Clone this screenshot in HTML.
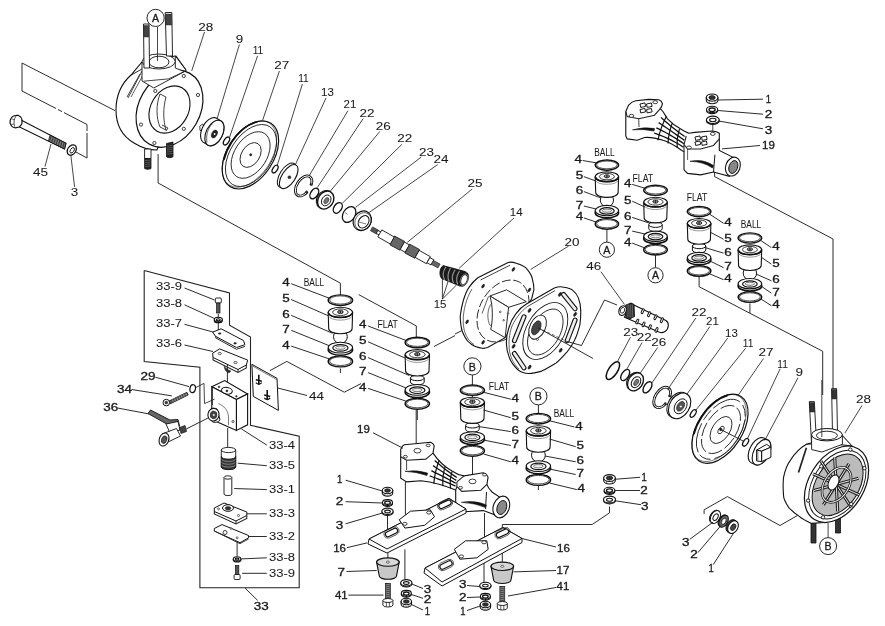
<!DOCTYPE html>
<html><head><meta charset="utf-8"><style>
html,body{margin:0;padding:0;background:#fff;}
svg{display:block;filter:grayscale(1);}
text{font-family:"Liberation Sans",sans-serif;fill:#1a1a1a;stroke:#1a1a1a;stroke-width:0.05px;}
</style></head><body>
<svg width="885" height="626" viewBox="0 0 885 626">
<rect width="885" height="626" fill="#fff"/>
<path d="M22.0 63.0 L115.0 110.6" fill="none" stroke="#222" stroke-width="0.96" />
<path d="M22.0 63.0 L22.0 91.0" fill="none" stroke="#222" stroke-width="0.96" />
<path d="M22.0 91.0 L56.0 108.5" fill="none" stroke="#222" stroke-width="0.96" />
<path d="M58.0 109.5 L62.0 111.6" fill="none" stroke="#222" stroke-width="0.96" />
<path d="M64.0 112.6 L87.0 124.5" fill="none" stroke="#222" stroke-width="0.96" />
<path d="M87.0 124.5 L87.0 131.0" fill="none" stroke="#222" stroke-width="0.96" />
<path d="M87.0 133.0 L87.0 158.0" fill="none" stroke="#222" stroke-width="0.96" />
<path d="M87.0 158.0 L75.0 151.5" fill="none" stroke="#222" stroke-width="0.96" />
<path d="M20.5,119.8 L66,143.2 L64.5,149 L18.5,126.5 Z" fill="#fff" stroke="#111" stroke-width="1.1" />
<path d="M50,135.2 L66,143.2 L64.5,149 L48.5,141 Z" fill="#777" stroke="#111" stroke-width="0.8" />
<path d="M51.0 135.9 L49.6 141.5" fill="none" stroke="#222" stroke-width="0.72" />
<path d="M53.2 137.0 L51.8 142.6" fill="none" stroke="#222" stroke-width="0.72" />
<path d="M55.4 138.1 L54.0 143.7" fill="none" stroke="#222" stroke-width="0.72" />
<path d="M57.6 139.2 L56.2 144.8" fill="none" stroke="#222" stroke-width="0.72" />
<path d="M59.8 140.3 L58.4 145.9" fill="none" stroke="#222" stroke-width="0.72" />
<path d="M62.0 141.4 L60.6 147.0" fill="none" stroke="#222" stroke-width="0.72" />
<path d="M64.2 142.5 L62.8 148.1" fill="none" stroke="#222" stroke-width="0.72" />
<path d="M10.3,120 C11,118 12,116.5 13.5,116 L18,115.2 C20,116 21.5,117.5 21.8,119 L22,123.5 C21,125.5 20,126.5 19,127 L15.5,127.8 C13.5,127.5 12,126.8 11.5,126 L10,123 Z" fill="#fff" stroke="#111" stroke-width="1.2" />
<path d="M16,116.2 C14,118.5 13.5,122.5 14.6,126.5" fill="none" stroke="#222" stroke-width="0.8"/>
<path d="M12,119 L14.2,119.8 M11.2,124.5 L13.8,124" fill="none" stroke="#222" stroke-width="0.7"/>
<ellipse cx="71.8" cy="150.0" rx="4.11" ry="5.60" transform="rotate(33 71.8 150.0)" fill="#fff" stroke="#111" stroke-width="1.3" />
<ellipse cx="72.2" cy="150.3" rx="1.75" ry="3.01" transform="rotate(33 72.2 150.3)" fill="#fff" stroke="#111" stroke-width="0.9" />
<text x="40.5" y="175.8" font-size="10.6" text-anchor="middle" textLength="15.0" lengthAdjust="spacingAndGlyphs" >45</text>
<path d="M45.0 166.5 L51.0 144.0" fill="none" stroke="#222" stroke-width="0.84" />
<text x="74.6" y="196.3" font-size="10.6" text-anchor="middle" textLength="7.5" lengthAdjust="spacingAndGlyphs" >3</text>
<path d="M74.6 187.0 L70.8 155.0" fill="none" stroke="#222" stroke-width="0.84" />
<path d="M158.1 154.0 L158.1 183.0 L340.4 283.2 L340.4 296.0" fill="none" stroke="#222" stroke-width="0.96" />
<path d="M131,75 C121,84 116,97 116,110 C116,124 122,136 134,143 C142,148 150,150 157,150 L186,70 L176,56 L142,62 Z" fill="#fff" stroke="#111" stroke-width="1.1" />
<path d="M142.0 71.0 L128.0 98.0" fill="none" stroke="#222" stroke-width="0.84" />
<path d="M140.0 74.0 L127.0 97.0" fill="none" stroke="#222" stroke-width="0.84" />
<path d="M143.0 75.0 L131.0 97.0" fill="none" stroke="#222" stroke-width="0.72" />
<ellipse cx="169.5" cy="108.7" rx="30.60" ry="40.80" transform="rotate(30 169.5 108.7)" fill="#fff" stroke="#111" stroke-width="1.2" />
<path d="M142,62 L142,81 L153.8,88 L184.3,71.6 L175.3,68 L175.3,56 Z" fill="#fff" stroke="#111" stroke-width="0.9" />
<path d="M131.2 75.0 L142.0 69.0" fill="none" stroke="#222" stroke-width="0.96" />
<path d="M175.3 56.0 L185.4 69.0" fill="none" stroke="#222" stroke-width="0.96" />
<path d="M143.6 81.2 L168.5 78.9 L184.3 71.6" fill="none" stroke="#222" stroke-width="0.84" />
<ellipse cx="158.7" cy="61.5" rx="16.50" ry="7.50" transform="rotate(0 158.7 61.5)" fill="#fff" stroke="#111" stroke-width="0.9" />
<ellipse cx="159.0" cy="62.0" rx="10.00" ry="5.80" transform="rotate(0 159.0 62.0)" fill="#fff" stroke="#111" stroke-width="0.9" />
<ellipse cx="169.5" cy="109.5" rx="18.80" ry="25.00" transform="rotate(30 169.5 109.5)" fill="#fff" stroke="#111" stroke-width="1.1" />
<path d="M160,94 C156,104 156,118 160,127 L166,130 C163,120 163,108 166,97 Z" fill="#fff" stroke="#111" stroke-width="0.8" />
<path d="M162.0 125.0 L168.0 128.0 L166.0 131.0" fill="none" stroke="#222" stroke-width="0.84" />
<circle cx="183.8" cy="76.0" r="1.6" fill="#fff" stroke="#111" stroke-width="0.8"/>
<circle cx="198.0" cy="95.0" r="1.6" fill="#fff" stroke="#111" stroke-width="0.8"/>
<circle cx="155.3" cy="91.0" r="1.6" fill="#fff" stroke="#111" stroke-width="0.8"/>
<circle cx="141.0" cy="124.6" r="1.6" fill="#fff" stroke="#111" stroke-width="0.8"/>
<circle cx="183.8" cy="128.8" r="1.6" fill="#fff" stroke="#111" stroke-width="0.8"/>
<circle cx="154.4" cy="143.0" r="1.6" fill="#fff" stroke="#111" stroke-width="0.8"/>
<path d="M143.5,24 L149,24 L149.5,68 L144,68 Z" fill="#fff" stroke="#111" stroke-width="0.9" />
<path d="M143.8,25.5 L148.8,25.5 L148.9,37 L143.9,37 Z" fill="#444" stroke="#111" stroke-width="0.4" />
<path d="M165.2,12.5 L171.8,12.5 L172.5,56 L166.5,56 Z" fill="#fff" stroke="#111" stroke-width="0.9" />
<path d="M165.5,14 L171.6,14 L171.8,25 L165.7,25 Z" fill="#444" stroke="#111" stroke-width="0.4" />
<path d="M157.5 27.0 L157.5 61.0" fill="none" stroke="#222" stroke-width="0.84" />
<circle cx="155.6" cy="17.9" r="8.6" fill="#fff" stroke="#111" stroke-width="0.9"/>
<text x="155.6" y="22.0" font-size="10.6" text-anchor="middle"   style="stroke-width:0.32px">A</text>
<path d="M144.6,149 L151,149 L151,158.5 L144.6,158.5 Z" fill="#fff" stroke="#111" stroke-width="0.9" />
<path d="M144.6,158.5 L151,158.5 L151,168.5 C149,169.6 146.5,169.6 144.6,168.5 Z" fill="#222" stroke="#111" stroke-width="0.8" />
<path d="M145.0 160.5 L150.6 160.0" fill="none" stroke="#888" stroke-width="0.5" />
<path d="M145.0 162.5 L150.6 162.0" fill="none" stroke="#888" stroke-width="0.5" />
<path d="M145.0 164.5 L150.6 164.0" fill="none" stroke="#888" stroke-width="0.5" />
<path d="M145.0 166.5 L150.6 166.0" fill="none" stroke="#888" stroke-width="0.5" />
<path d="M166.5,143.5 L173,142 L173,156.8 C171,158 168.5,158 166.5,156.8 Z" fill="#222" stroke="#111" stroke-width="0.8" />
<path d="M167.0 146.0 L172.6 145.5" fill="none" stroke="#888" stroke-width="0.5" />
<path d="M167.0 148.0 L172.6 147.5" fill="none" stroke="#888" stroke-width="0.5" />
<path d="M167.0 150.0 L172.6 149.5" fill="none" stroke="#888" stroke-width="0.5" />
<path d="M167.0 152.0 L172.6 151.5" fill="none" stroke="#888" stroke-width="0.5" />
<path d="M167.0 154.0 L172.6 153.5" fill="none" stroke="#888" stroke-width="0.5" />
<text x="205.8" y="30.6" font-size="10.6" text-anchor="middle" textLength="15.0" lengthAdjust="spacingAndGlyphs" >28</text>
<path d="M204.5 32.0 L191.7 70.9" fill="none" stroke="#222" stroke-width="0.84" />
<text x="239.4" y="42.8" font-size="10.6" text-anchor="middle" textLength="7.5" lengthAdjust="spacingAndGlyphs" >9</text>
<path d="M239.4 44.5 L216.7 120.0" fill="none" stroke="#222" stroke-width="0.84" />
<text x="258.0" y="54.0" font-size="10.6" text-anchor="middle" textLength="10.6" lengthAdjust="spacingAndGlyphs" >11</text>
<path d="M257.6 55.8 L229.5 137.4" fill="none" stroke="#222" stroke-width="0.84" />
<text x="281.7" y="68.8" font-size="10.6" text-anchor="middle" textLength="15.0" lengthAdjust="spacingAndGlyphs" >27</text>
<path d="M279.4 71.0 L262.7 120.0" fill="none" stroke="#222" stroke-width="0.84" />
<text x="303.5" y="82.3" font-size="10.6" text-anchor="middle" textLength="10.6" lengthAdjust="spacingAndGlyphs" >11</text>
<path d="M302.4 84.0 L276.8 166.8" fill="none" stroke="#222" stroke-width="0.84" />
<text x="327.5" y="96.0" font-size="10.6" text-anchor="middle" textLength="12.8" lengthAdjust="spacingAndGlyphs" >13</text>
<path d="M326.0 98.0 L295.5 164.3" fill="none" stroke="#222" stroke-width="0.84" />
<text x="350.0" y="108.3" font-size="10.6" text-anchor="middle" textLength="12.8" lengthAdjust="spacingAndGlyphs" >21</text>
<path d="M347.9 110.7 L309.6 175.0" fill="none" stroke="#222" stroke-width="0.84" />
<text x="367.0" y="116.8" font-size="10.6" text-anchor="middle" textLength="15.0" lengthAdjust="spacingAndGlyphs" >22</text>
<path d="M363.2 118.5 L317.3 187.5" fill="none" stroke="#222" stroke-width="0.84" />
<text x="383.2" y="129.8" font-size="10.6" text-anchor="middle" textLength="15.0" lengthAdjust="spacingAndGlyphs" >26</text>
<path d="M379.8 131.5 L329.9 191.7" fill="none" stroke="#222" stroke-width="0.84" />
<text x="404.8" y="142.4" font-size="10.6" text-anchor="middle" textLength="15.0" lengthAdjust="spacingAndGlyphs" >22</text>
<path d="M401.8 144.4 L342.5 203.1" fill="none" stroke="#222" stroke-width="0.84" />
<text x="426.5" y="155.8" font-size="10.6" text-anchor="middle" textLength="15.0" lengthAdjust="spacingAndGlyphs" >23</text>
<path d="M421.3 157.0 L355.7 207.3" fill="none" stroke="#222" stroke-width="0.84" />
<text x="441.0" y="163.0" font-size="10.6" text-anchor="middle" textLength="15.0" lengthAdjust="spacingAndGlyphs" >24</text>
<path d="M437.7 164.6 L368.8 212.7" fill="none" stroke="#222" stroke-width="0.84" />
<text x="475.0" y="187.0" font-size="10.6" text-anchor="middle" textLength="15.0" lengthAdjust="spacingAndGlyphs" >25</text>
<path d="M472.2 189.0 L407.3 242.4" fill="none" stroke="#222" stroke-width="0.84" />
<text x="516.2" y="216.2" font-size="10.6" text-anchor="middle" textLength="12.8" lengthAdjust="spacingAndGlyphs" >14</text>
<path d="M513.9 218.0 L459.1 268.3" fill="none" stroke="#222" stroke-width="0.84" />
<text x="440.1" y="307.8" font-size="10.6" text-anchor="middle" textLength="12.8" lengthAdjust="spacingAndGlyphs" >15</text>
<path d="M442.4 299.0 L442.4 277.5" fill="none" stroke="#222" stroke-width="0.84" />
<path d="M442.4 299.0 L448.5 280.0" fill="none" stroke="#222" stroke-width="0.84" />
<path d="M442.4 299.0 L456.5 285.0" fill="none" stroke="#222" stroke-width="0.84" />
<path d="M199.8,126 L202.8,124 L204.5,127.5 L203.5,131 L200,130.5 Z" fill="#fff" stroke="#111" stroke-width="0.8" />
<path d="M200.60,135.43 L200.64,134.38 L200.76,133.31 L200.95,132.21 L201.21,131.10 L201.54,129.98 L201.93,128.87 L202.39,127.76 L202.91,126.68 L203.48,125.63 L204.10,124.61 L204.77,123.64 L205.48,122.72 L206.23,121.86 L207.00,121.06 L207.80,120.33 L208.62,119.68 L209.45,119.11 L210.29,118.63 L211.13,118.23 L211.96,117.93 L212.77,117.73 L213.57,117.62 L214.34,117.61 L215.08,117.69 L215.78,117.87 L216.44,118.15 L217.05,118.52 L221.25,121.12 L221.81,121.58 L222.32,122.13 L222.76,122.76 L223.14,123.47 L223.45,124.25 L223.70,125.10 L223.87,126.01 L223.97,126.97 L224.00,127.97 L223.96,129.02 L223.84,130.09 L223.65,131.19 L223.39,132.30 L223.06,133.42 L222.67,134.53 L222.21,135.64 L221.69,136.72 L221.12,137.77 L220.50,138.79 L219.83,139.76 L219.12,140.68 L218.37,141.54 L217.60,142.34 L216.80,143.07 L215.98,143.72 L215.15,144.29 L214.31,144.77 L213.47,145.17 L212.64,145.47 L211.83,145.67 L211.03,145.78 L210.26,145.79 L209.52,145.71 L208.82,145.53 L208.16,145.25 L207.55,144.88 L203.35,142.28 L202.79,141.82 L202.28,141.27 L201.84,140.64 L201.46,139.93 L201.15,139.15 L200.90,138.30 L200.73,137.39 L200.63,136.43 Z" fill="#fff" stroke="#111" stroke-width="1.1"/>
<ellipse cx="214.4" cy="133.0" rx="8.19" ry="13.75" transform="rotate(27 214.4 133.0)" fill="#fff" stroke="#111" stroke-width="1.1" />
<path d="M212.2,124 C207.5,128.5 205.8,136 207,142.5" fill="none" stroke="#222" stroke-width="0.7"/>
<ellipse cx="214.4" cy="134.0" rx="2.66" ry="4.24" transform="rotate(25 214.4 134.0)" fill="#222" stroke="#111" stroke-width="0.5" />
<circle cx="214.6" cy="134.0" r="0.9" fill="#fff" stroke="#111" stroke-width="0"/>
<ellipse cx="226.5" cy="141.0" rx="2.35" ry="4.39" transform="rotate(33 226.5 141.0)" fill="#fff" stroke="#111" stroke-width="1.3" />
<ellipse cx="250.4" cy="154.9" rx="23.07" ry="37.67" transform="rotate(33 250.4 154.9)" fill="#fff" stroke="#111" stroke-width="1.2" />
<ellipse cx="249.4" cy="154.1" rx="22.02" ry="36.91" transform="rotate(33 249.4 154.1)" fill="none" stroke="#111" stroke-width="0.5" />
<ellipse cx="250.2" cy="154.7" rx="22.34" ry="37.22" transform="rotate(33 250.2 154.7)" fill="none" stroke="#111" stroke-width="1.7" pathLength="100" stroke-dasharray="0 40 28 100"/>
<ellipse cx="251.0" cy="155.5" rx="20.80" ry="34.41" transform="rotate(33 251.0 155.5)" fill="none" stroke="#111" stroke-width="0.8" />
<ellipse cx="250.6" cy="155.0" rx="16.18" ry="25.72" transform="rotate(33 250.6 155.0)" fill="none" stroke="#111" stroke-width="0.8" />
<ellipse cx="250.6" cy="155.0" rx="9.06" ry="13.56" transform="rotate(33 250.6 155.0)" fill="none" stroke="#111" stroke-width="0.8" />
<circle cx="250.7" cy="154.8" r="1.2" fill="#222" stroke="#111" stroke-width="0.3"/>
<ellipse cx="275.1" cy="169.1" rx="2.24" ry="4.29" transform="rotate(33 275.1 169.1)" fill="#fff" stroke="#111" stroke-width="1.3" />
<ellipse cx="286.8" cy="175.2" rx="6.89" ry="13.84" transform="rotate(33 286.8 175.2)" fill="#fff" stroke="#111" stroke-width="1.0" />
<ellipse cx="288.7" cy="176.6" rx="6.67" ry="13.64" transform="rotate(33 288.7 176.6)" fill="#fff" stroke="#111" stroke-width="1.1" />
<circle cx="289.4" cy="177.2" r="1.5" fill="#333" stroke="#111" stroke-width="0.4"/>
<ellipse cx="303.6" cy="185.9" rx="6.58" ry="11.13" transform="rotate(33 303.6 185.9)" fill="none" stroke="#111" stroke-width="2.8" pathLength="100" stroke-dasharray="0 5 87 8"/>
<ellipse cx="303.6" cy="185.9" rx="6.58" ry="11.13" transform="rotate(33 303.6 185.9)" fill="none" stroke="#fff" stroke-width="0.9" pathLength="100" stroke-dasharray="0 6 85 9"/>
<circle cx="310.9" cy="184.4" r="1.1" fill="#333" stroke="#111" stroke-width="0.3"/>
<circle cx="306.6" cy="191.9" r="1.1" fill="#333" stroke="#111" stroke-width="0.3"/>
<ellipse cx="314.3" cy="193.5" rx="3.60" ry="5.87" transform="rotate(33 314.3 193.5)" fill="#fff" stroke="#111" stroke-width="1.4" />
<ellipse cx="324.5" cy="199.5" rx="7.56" ry="9.54" transform="rotate(33 324.5 199.5)" fill="#fff" stroke="#111" stroke-width="1.0" />
<ellipse cx="325.7" cy="200.1" rx="7.56" ry="9.54" transform="rotate(33 325.7 200.1)" fill="#fff" stroke="#111" stroke-width="1.4" />
<ellipse cx="326.2" cy="200.4" rx="4.31" ry="5.80" transform="rotate(33 326.2 200.4)" fill="#fff" stroke="#111" stroke-width="0.9" />
<ellipse cx="326.4" cy="200.6" rx="2.06" ry="3.32" transform="rotate(33 326.4 200.6)" fill="#777" stroke="#111" stroke-width="0.5" />
<ellipse cx="337.8" cy="207.9" rx="3.81" ry="5.81" transform="rotate(33 337.8 207.9)" fill="#fff" stroke="#111" stroke-width="1.4" />
<ellipse cx="349.1" cy="214.5" rx="5.97" ry="8.46" transform="rotate(33 349.1 214.5)" fill="#fff" stroke="#111" stroke-width="1.3" />
<path d="M345.0 212.5 L347.5 214.5" fill="none" stroke="#222" stroke-width="0.6" />
<ellipse cx="362.3" cy="220.8" rx="8.74" ry="10.22" transform="rotate(33 362.3 220.8)" fill="#fff" stroke="#111" stroke-width="1.2" />
<ellipse cx="363.0" cy="221.4" rx="7.73" ry="9.21" transform="rotate(33 363.0 221.4)" fill="none" stroke="#111" stroke-width="0.6" />
<ellipse cx="363.6" cy="221.8" rx="4.93" ry="6.66" transform="rotate(33 363.6 221.8)" fill="#fff" stroke="#111" stroke-width="1.0" />
<path d="M359.0 222.0 L366.0 224.0" fill="none" stroke="#222" stroke-width="0.6" />
<path d="M370.4,230.7 L376.5,234.1 L378.7,230.3 L372.6,226.9 Z" fill="#555" stroke="#111" stroke-width="0.6" />
<path d="M376.2,233.4 L379.7,235.3 L381.3,232.3 L377.8,230.4 Z" fill="#fff" stroke="#111" stroke-width="0.9" />
<path d="M377.8,236.9 L390.5,244.1 L394.5,237.1 L381.8,229.9 Z" fill="#fff" stroke="#111" stroke-width="0.9" />
<path d="M390.0,244.9 L400.0,250.2 L404.6,241.4 L394.6,236.1 Z" fill="#666" stroke="#111" stroke-width="0.8" />
<path d="M400.2,249.5 L405.2,252.3 L409.4,244.9 L404.4,242.1 Z" fill="#fff" stroke="#111" stroke-width="0.9" />
<path d="M404.9,253.0 L414.8,258.3 L419.6,249.5 L409.7,244.2 Z" fill="#666" stroke="#111" stroke-width="0.8" />
<path d="M415.2,257.4 L426.4,263.7 L430.4,256.7 L419.2,250.4 Z" fill="#fff" stroke="#111" stroke-width="0.9" />
<path d="M427.0,262.8 L431.1,265.0 L433.9,259.8 L429.8,257.6 Z" fill="#fff" stroke="#111" stroke-width="0.9" />
<path d="M431.2,264.2 L437.9,267.9 L440.1,264.1 L433.4,260.4 Z" fill="#666" stroke="#111" stroke-width="0.6" />
<path d="M443.2,265.6 L465.4,271.6 L460.5,286.3 L442.1,278.7 C439,277 439,268 443.2,265.6 Z" fill="#1c1c1c" stroke="#111" stroke-width="0.8" />
<path d="M445.9,266.7 Q441.0,274.4 444.8,279.7" fill="none" stroke="#999" stroke-width="1.1"/>
<path d="M450.5,268 Q446.2,276.1 449.1,281.4" fill="none" stroke="#999" stroke-width="1.1"/>
<path d="M455.1,269.7 Q450.5,276.6 453.5,283" fill="none" stroke="#999" stroke-width="1.1"/>
<path d="M459.5,271 Q454.8,278.4 457.8,284.6" fill="none" stroke="#999" stroke-width="1.1"/>
<ellipse cx="463.8" cy="279.2" rx="4.45" ry="7.49" transform="rotate(20 463.8 279.2)" fill="#1c1c1c" stroke="#111" stroke-width="0.5" />
<ellipse cx="464.1" cy="279.8" rx="2.96" ry="5.21" transform="rotate(20 464.1 279.8)" fill="#fff" stroke="#111" stroke-width="0.6" />
<ellipse cx="464.1" cy="279.8" rx="3.52" ry="6.04" transform="rotate(20 464.1 279.8)" fill="none" stroke="#999" stroke-width="0.6" />
<path d="M455.0 334.0 L499.8 311.9" fill="none" stroke="#222" stroke-width="0.96" />
<path d="M477.8,277.8 L508.1,262.6 C512,261 515,263 518.7,264.1 C523,265.5 526,267.5 527.8,270.2 C530,273 532,276 532.4,279.3 C533.5,283 534,287 533.9,289.9 L531.6,299 L505.1,337.7 L487.6,347.6 C485,348.5 484,348.6 482.3,348.3 C478,347.5 474.5,346.4 471.7,344.5 C468,342 466,339.5 464.9,337 C462,332 461.3,329 461.1,326.3 C460.3,321 460,318 460.3,315.7 C461,310 462,305 463.3,300.5 C465,295 467,290 469.4,286.9 C472,283 475,280 477.8,277.8 Z" fill="#fff" stroke="#111" stroke-width="1.1" />
<path d="M480.5 280.0 L510.0 265.2" fill="none" stroke="#222" stroke-width="0.84" />
<path d="M472,289 C466.5,298 463,310 463.2,322 C463.5,332 467,340 474,344.5" fill="none" stroke="#222" stroke-width="0.7"/>
<ellipse cx="503.0" cy="311.0" rx="23.10" ry="33.22" transform="rotate(30 503.0 311.0)" fill="none" stroke="#111" stroke-width="0.8" stroke-dasharray="9 2.5"/>
<ellipse cx="513.4" cy="269.4" rx="1.12" ry="2.15" transform="rotate(33 513.4 269.4)" fill="#222" stroke="#111" stroke-width="0.4" />
<ellipse cx="483.1" cy="286.1" rx="1.12" ry="2.15" transform="rotate(33 483.1 286.1)" fill="#222" stroke="#111" stroke-width="0.4" />
<ellipse cx="529.4" cy="289.9" rx="1.12" ry="2.15" transform="rotate(33 529.4 289.9)" fill="#222" stroke="#111" stroke-width="0.4" />
<ellipse cx="467.1" cy="321.8" rx="1.12" ry="2.15" transform="rotate(33 467.1 321.8)" fill="#222" stroke="#111" stroke-width="0.4" />
<ellipse cx="483.1" cy="342.3" rx="1.12" ry="2.15" transform="rotate(33 483.1 342.3)" fill="#222" stroke="#111" stroke-width="0.4" />
<path d="M489.9,296 L506.6,289.8 L526.3,301.7 L508.6,307.3 Z" fill="#fff" stroke="#111" stroke-width="0.9" />
<path d="M489.9,296 L508.6,307.3 L505.1,337.7 L490.7,329.4 C493,321 493,306 489.9,296 Z" fill="#fff" stroke="#111" stroke-width="0.9" />
<path d="M492,303 C487,308 486.5,320 490.5,326" fill="none" stroke="#222" stroke-width="0.7"/>
<circle cx="500.2" cy="311.9" r="0.9" fill="#fff" stroke="#111" stroke-width="0.6"/>
<circle cx="508.1" cy="313.4" r="0.8" fill="#fff" stroke="#111" stroke-width="0.6"/>
<circle cx="503.6" cy="320.3" r="0.8" fill="#fff" stroke="#111" stroke-width="0.6"/>
<path d="M482.0 313.5 L488.5 296.3" fill="none" stroke="#222" stroke-width="0.72" />
<path d="M526.4,304 L554.3,288 C557,287 559,286.6 560.7,286.7 C565,287 569,288 571.9,289.6 C575,292 577,294.5 578.3,297.6 C580,302 580.7,306 580.7,310.4 C581,316 580.5,320 579.9,324.8 C578.5,330 577,335 575.1,339.1 C573,344 570,348 567.1,351.9 C563,356 560,360 555.9,363.1 C551,366 546,369 541.6,371.1 C537,372.5 533,373.5 528.8,373.5 C524,373.5 520.5,372 517.6,369.5 C514,366 511,362 509.6,358.3 C507.5,353 506.5,348.5 506.4,343.9 C506.2,338 507,333 508.8,328 C510.5,322 513,317.5 516,313.6 C519,309.5 522,306.5 526.4,304 Z" fill="#fff" stroke="#111" stroke-width="1.1" />
<path d="M527.5,306.5 C521,311 516,318 512,326 C509,334 508.5,343 509.5,351 C511,359 514.5,365 519,369" fill="none" stroke="#222" stroke-width="0.7"/>
<path d="M527.5 306.5 L555.0 290.6" fill="none" stroke="#222" stroke-width="0.84" />
<ellipse cx="545.3" cy="331.0" rx="18.79" ry="31.07" transform="rotate(30 545.3 331.0)" fill="none" stroke="#111" stroke-width="0.9" />
<ellipse cx="545.3" cy="332.0" rx="14.52" ry="25.20" transform="rotate(30 545.3 332.0)" fill="none" stroke="#111" stroke-width="0.8" />
<path d="M524,316.8 L514.4,340.7" stroke="#111" stroke-width="5" stroke-linecap="round"/>
<path d="M524,316.8 L514.4,340.7" stroke="#eee" stroke-width="2.8" stroke-linecap="round"/>
<path d="M575.1,320 L567.1,340.7" stroke="#111" stroke-width="5" stroke-linecap="round"/>
<path d="M575.1,320 L567.1,340.7" stroke="#eee" stroke-width="2.8" stroke-linecap="round"/>
<path d="M563.5,294.4 L575.1,308.8" stroke="#111" stroke-width="5" stroke-linecap="round"/>
<path d="M563.5,294.4 L575.1,308.8" stroke="#eee" stroke-width="2.8" stroke-linecap="round"/>
<path d="M514.4,353.5 L524,367.9" stroke="#111" stroke-width="5" stroke-linecap="round"/>
<path d="M514.4,353.5 L524,367.9" stroke="#eee" stroke-width="2.8" stroke-linecap="round"/>
<ellipse cx="560.0" cy="294.4" rx="1.23" ry="2.25" transform="rotate(33 560.0 294.4)" fill="#222" stroke="#111" stroke-width="0.4" />
<ellipse cx="529.6" cy="310.4" rx="1.23" ry="2.25" transform="rotate(33 529.6 310.4)" fill="#222" stroke="#111" stroke-width="0.4" />
<ellipse cx="575.1" cy="314.4" rx="1.23" ry="2.25" transform="rotate(33 575.1 314.4)" fill="#222" stroke="#111" stroke-width="0.4" />
<ellipse cx="513.6" cy="346.3" rx="1.23" ry="2.25" transform="rotate(33 513.6 346.3)" fill="#222" stroke="#111" stroke-width="0.4" />
<ellipse cx="560.7" cy="350.3" rx="1.23" ry="2.25" transform="rotate(33 560.7 350.3)" fill="#222" stroke="#111" stroke-width="0.4" />
<ellipse cx="529.6" cy="367.1" rx="1.23" ry="2.25" transform="rotate(33 529.6 367.1)" fill="#222" stroke="#111" stroke-width="0.4" />
<ellipse cx="537.6" cy="327.2" rx="7.68" ry="12.75" transform="rotate(25 537.6 327.2)" fill="#fff" stroke="#111" stroke-width="0.9" />
<ellipse cx="536.3" cy="327.8" rx="3.98" ry="7.50" transform="rotate(25 536.3 327.8)" fill="#444" stroke="#111" stroke-width="0.6" />
<circle cx="537.5" cy="339.5" r="1.0" fill="#fff" stroke="#111" stroke-width="0.6"/>
<path d="M538.4 328.0 L593.0 358.5" fill="none" stroke="#222" stroke-width="0.96" />
<path d="M538.4 328.0 L567.1 341.5" fill="none" stroke="#222" stroke-width="0.72" stroke-dasharray="3 2"/>
<text x="572.0" y="245.7" font-size="10.6" text-anchor="middle" textLength="15.0" lengthAdjust="spacingAndGlyphs" >20</text>
<path d="M568.7 246.0 L530.7 269.4" fill="none" stroke="#222" stroke-width="0.84" />
<circle cx="472.4" cy="366.4" r="8.6" fill="#fff" stroke="#111" stroke-width="0.9"/>
<text x="472.4" y="370.5" font-size="10.6" text-anchor="middle"   style="stroke-width:0.32px">B</text>
<path d="M286.8 361.4 L344.3 392.2 L361.0 383.6" fill="none" stroke="#222" stroke-width="0.96" />
<path d="M434.0 346.5 L455.0 335.6" fill="none" stroke="#222" stroke-width="0.96" />
<path d="M270.0 370.6 L286.8 361.4" fill="none" stroke="#222" stroke-width="0.96" />
<path d="M340.4 368.4 L340.4 373.0" fill="none" stroke="#222" stroke-width="0.96" />
<path d="M358.7 294.6 L416.3 325.9 L416.3 338.0" fill="none" stroke="#222" stroke-width="0.96" />
<path d="M417.3 410.0 L417.3 420.0" fill="none" stroke="#222" stroke-width="0.96" />
<circle cx="340.4" cy="336.7" r="6.9" fill="#fff" stroke="#111" stroke-width="1.0"/>
<path d="M328.2,312.5 L328.7,328.7 A11.7 5.0 0 0 0 352.1,328.7 L352.6,312.5 Z" fill="#fff" stroke="#111" stroke-width="1.1"/>
<ellipse cx="340.4" cy="312.5" rx="12.2" ry="5.2" fill="#fff" stroke="#111" stroke-width="1.1"/>
<path d="M328.4,313.0 A12.2 5.2 0 0 0 352.4,313.0" fill="none" stroke="#111" stroke-width="1.6"/>
<ellipse cx="340.4" cy="312.2" rx="7.8" ry="3.3" fill="#fff" stroke="#222" stroke-width="0.9"/>
<ellipse cx="340.4" cy="311.9" rx="2.8" ry="1.7" fill="#333" stroke="#111" stroke-width="0.8"/>
<path d="M339.2,310.7 L339.2,313.1 M341.6,310.7 L341.6,313.1" stroke="#ddd" stroke-width="0.6"/>
<path d="M328.5,316.1 A12.2 5.2 0 0 0 352.3,316.1" fill="none" stroke="#555" stroke-width="0.6"/>
<ellipse cx="340.4" cy="349.8" rx="12.2" ry="5.4" fill="#fff" stroke="#111" stroke-width="1.6"/>
<ellipse cx="340.4" cy="347.6" rx="12.2" ry="5.4" fill="#fff" stroke="#111" stroke-width="1.1"/>
<ellipse cx="340.4" cy="347.9" rx="7.6" ry="3.3" fill="#fff" stroke="#111" stroke-width="1.2"/>
<ellipse cx="340.4" cy="347.7" rx="4.9" ry="1.7" fill="#eee" stroke="#444" stroke-width="0.7"/>
<ellipse cx="340.4" cy="300.2" rx="12.2" ry="5.3" fill="#fff" stroke="#111" stroke-width="1.4"/>
<ellipse cx="340.4" cy="300.0" rx="10.8" ry="4.1" fill="#fff" stroke="#222" stroke-width="0.8"/>
<ellipse cx="340.4" cy="361.4" rx="12.2" ry="5.5" fill="#fff" stroke="#111" stroke-width="1.4"/>
<ellipse cx="340.4" cy="361.2" rx="10.8" ry="4.3" fill="#fff" stroke="#222" stroke-width="0.8"/>
<text x="285.9" y="286.1" font-size="10.6" text-anchor="middle" textLength="7.5" lengthAdjust="spacingAndGlyphs"  style="stroke-width:0.32px">4</text>
<path d="M291.2 283.7 L329.0 298.1" fill="none" stroke="#222" stroke-width="0.96" />
<text x="285.9" y="301.9" font-size="10.6" text-anchor="middle" textLength="7.5" lengthAdjust="spacingAndGlyphs"  style="stroke-width:0.32px">5</text>
<path d="M291.2 299.5 L328.1 315.7" fill="none" stroke="#222" stroke-width="0.96" />
<text x="285.9" y="317.7" font-size="10.6" text-anchor="middle" textLength="7.5" lengthAdjust="spacingAndGlyphs"  style="stroke-width:0.32px">6</text>
<path d="M291.2 315.3 L332.5 333.3" fill="none" stroke="#222" stroke-width="0.96" />
<text x="285.9" y="332.7" font-size="10.6" text-anchor="middle" textLength="7.5" lengthAdjust="spacingAndGlyphs"  style="stroke-width:0.32px">7</text>
<path d="M291.2 330.3 L329.0 345.6" fill="none" stroke="#222" stroke-width="0.96" />
<text x="285.9" y="348.5" font-size="10.6" text-anchor="middle" textLength="7.5" lengthAdjust="spacingAndGlyphs"  style="stroke-width:0.32px">4</text>
<path d="M291.2 346.1 L329.0 358.8" fill="none" stroke="#222" stroke-width="0.96" />
<text x="314.0" y="285.9" font-size="10" text-anchor="middle" textLength="20.4" lengthAdjust="spacingAndGlyphs">BALL</text>
<path d="M410.4,378.0 L410.4,382.0 A6.9 2.9 0 0 0 424.2,382.0 L424.2,378.0" fill="#fff" stroke="#111" stroke-width="1.0"/>
<ellipse cx="417.3" cy="378.0" rx="6.9" ry="2.7" fill="#fff" stroke="#111" stroke-width="1.0"/>
<path d="M405.1,354.8 L405.6,371.0 A11.7 5.0 0 0 0 429.0,371.0 L429.5,354.8 Z" fill="#fff" stroke="#111" stroke-width="1.1"/>
<ellipse cx="417.3" cy="354.8" rx="12.2" ry="5.2" fill="#fff" stroke="#111" stroke-width="1.1"/>
<path d="M405.3,355.3 A12.2 5.2 0 0 0 429.3,355.3" fill="none" stroke="#111" stroke-width="1.6"/>
<ellipse cx="417.3" cy="354.5" rx="7.8" ry="3.3" fill="#fff" stroke="#222" stroke-width="0.9"/>
<ellipse cx="417.3" cy="354.2" rx="2.8" ry="1.7" fill="#333" stroke="#111" stroke-width="0.8"/>
<path d="M416.1,353.0 L416.1,355.4 M418.5,353.0 L418.5,355.4" stroke="#ddd" stroke-width="0.6"/>
<path d="M405.4,358.4 A12.2 5.2 0 0 0 429.2,358.4" fill="none" stroke="#555" stroke-width="0.6"/>
<ellipse cx="417.3" cy="392.1" rx="12.2" ry="5.4" fill="#fff" stroke="#111" stroke-width="1.6"/>
<ellipse cx="417.3" cy="389.9" rx="12.2" ry="5.4" fill="#fff" stroke="#111" stroke-width="1.1"/>
<ellipse cx="417.3" cy="390.2" rx="7.6" ry="3.3" fill="#fff" stroke="#111" stroke-width="1.2"/>
<ellipse cx="417.3" cy="390.0" rx="4.9" ry="1.7" fill="#eee" stroke="#444" stroke-width="0.7"/>
<ellipse cx="417.3" cy="342.5" rx="12.2" ry="5.3" fill="#fff" stroke="#111" stroke-width="1.4"/>
<ellipse cx="417.3" cy="342.3" rx="10.8" ry="4.1" fill="#fff" stroke="#222" stroke-width="0.8"/>
<ellipse cx="417.3" cy="403.7" rx="12.2" ry="5.5" fill="#fff" stroke="#111" stroke-width="1.4"/>
<ellipse cx="417.3" cy="403.5" rx="10.8" ry="4.3" fill="#fff" stroke="#222" stroke-width="0.8"/>
<text x="362.8" y="328.4" font-size="10.6" text-anchor="middle" textLength="7.5" lengthAdjust="spacingAndGlyphs"  style="stroke-width:0.32px">4</text>
<path d="M368.1 326.0 L405.9 340.4" fill="none" stroke="#222" stroke-width="0.96" />
<text x="362.8" y="344.2" font-size="10.6" text-anchor="middle" textLength="7.5" lengthAdjust="spacingAndGlyphs"  style="stroke-width:0.32px">5</text>
<path d="M368.1 341.8 L405.0 358.0" fill="none" stroke="#222" stroke-width="0.96" />
<text x="362.8" y="360.0" font-size="10.6" text-anchor="middle" textLength="7.5" lengthAdjust="spacingAndGlyphs"  style="stroke-width:0.32px">6</text>
<path d="M368.1 357.6 L409.4 375.6" fill="none" stroke="#222" stroke-width="0.96" />
<text x="362.8" y="375.0" font-size="10.6" text-anchor="middle" textLength="7.5" lengthAdjust="spacingAndGlyphs"  style="stroke-width:0.32px">7</text>
<path d="M368.1 372.6 L405.9 387.9" fill="none" stroke="#222" stroke-width="0.96" />
<text x="362.8" y="390.8" font-size="10.6" text-anchor="middle" textLength="7.5" lengthAdjust="spacingAndGlyphs"  style="stroke-width:0.32px">4</text>
<path d="M368.1 388.4 L405.9 401.1" fill="none" stroke="#222" stroke-width="0.96" />
<text x="387.6" y="328.1" font-size="10" text-anchor="middle" textLength="20.4" lengthAdjust="spacingAndGlyphs">FLAT</text>
<path d="M628.6,105.1 C631,102.5 633,101.3 635.8,100.8 L648.8,99.4 L658.8,99.8 C661,100.5 662,102 662.4,103.7 C662,106 661.3,107.5 660.3,108.7 C664,112 665.5,116 667.5,118.8 C672,123.5 676,126.5 680.4,128.8 C684,131 686.5,132.5 689,133.2 L694.8,132.4 L712.1,131 C715,131.2 717.5,131.8 719.3,133.2 L719.3,150.4 L733.6,157.6 L737,160 L729.3,176.3 L713.5,172 L700.6,174.9 L687.6,173.4 L684,169.8 L684,151.9 C681,150 679,148.6 677.5,147.5 C672,144 668,141.5 663.2,140.3 C656,138 650,137 644.5,137.5 L637.3,140.3 L627.2,138.9 L625.8,136 L625.8,111.6 Z" fill="#fff" stroke="#111" stroke-width="1.1" />
<path d="M625.8 111.6 L627.2 116.6 L638.7 118.8 L654.5 115.2 L660.3 108.7" fill="none" stroke="#222" stroke-width="1.08" />
<path d="M638.7 118.8 L639.0 127.0" fill="none" stroke="#222" stroke-width="0.84" />
<path d="M686.2 136.0 L684.0 144.7 L687.6 149.0 L700.6 149.0 L713.5 145.4 L719.3 138.9" fill="none" stroke="#222" stroke-width="1.08" />
<path d="M684.0 144.7 L684.0 151.9" fill="none" stroke="#222" stroke-width="1.08" />
<path d="M687.6 149.0 L687.6 160.0" fill="none" stroke="#222" stroke-width="0.72" />
<path d="M661.0 117.4 L663.0 119.3 L665.1 121.2 L667.3 123.1 L669.6 125.0 L671.9 126.9 L674.3 128.8 L676.8 130.7 L679.3 132.7 L681.9 134.6 L684.6 136.5" fill="none" stroke="#111" stroke-width="1.3" />
<path d="M658.6 122.6 L661.1 124.2 L663.5 125.9 L666.0 127.5 L668.5 129.3 L671.1 131.0 L673.6 132.8 L676.2 134.6 L678.9 136.4 L681.5 138.2 L684.2 140.1" fill="none" stroke="#111" stroke-width="1.3" />
<path d="M656.3 127.8 L659.1 129.1 L661.9 130.6 L664.7 132.0 L667.5 133.5 L670.2 135.1 L673.0 136.7 L675.7 138.4 L678.4 140.1 L681.2 141.9 L683.9 143.7" fill="none" stroke="#111" stroke-width="1.3" />
<path d="M654.0 133.0 L657.2 134.1 L660.3 135.3 L663.4 136.5 L666.4 137.8 L669.4 139.2 L672.3 140.7 L675.2 142.2 L678.0 143.8 L680.8 145.5 L683.5 147.3" fill="none" stroke="#111" stroke-width="1.3" />
<path d="M666.3,116.6 Q660.1,128.9 657.9,140.3" fill="none" stroke="#111" stroke-width="1.2"/>
<path d="M672.4,122.9 Q668.2,133.8 668.1,143.6" fill="none" stroke="#111" stroke-width="1.2"/>
<path d="M679.5,129.1 Q676.4,139.0 677.3,147.8" fill="none" stroke="#111" stroke-width="1.2"/>
<rect x="640.0" y="104.0" width="5" height="3.5" fill="#fff" stroke="#111" stroke-width="0.9" transform="rotate(-12 640.0 104.0)"/>
<rect x="646.5" y="104.0" width="5" height="3.5" fill="#fff" stroke="#111" stroke-width="0.9" transform="rotate(-12 646.5 104.0)"/>
<rect x="640.0" y="109.5" width="5" height="3.5" fill="#fff" stroke="#111" stroke-width="0.9" transform="rotate(-12 640.0 109.5)"/>
<rect x="646.5" y="109.5" width="5" height="3.5" fill="#fff" stroke="#111" stroke-width="0.9" transform="rotate(-12 646.5 109.5)"/>
<rect x="695.0" y="137.0" width="5" height="3.5" fill="#fff" stroke="#111" stroke-width="0.9" transform="rotate(-12 695.0 137.0)"/>
<rect x="701.5" y="137.0" width="5" height="3.5" fill="#fff" stroke="#111" stroke-width="0.9" transform="rotate(-12 701.5 137.0)"/>
<rect x="695.0" y="142.0" width="5" height="3.5" fill="#fff" stroke="#111" stroke-width="0.9" transform="rotate(-12 695.0 142.0)"/>
<rect x="701.5" y="142.0" width="5" height="3.5" fill="#fff" stroke="#111" stroke-width="0.9" transform="rotate(-12 701.5 142.0)"/>
<ellipse cx="655.2" cy="102.2" rx="2.4" ry="1.5" fill="#fff" stroke="#111" stroke-width="0.8"/>
<ellipse cx="631.5" cy="115.9" rx="2.4" ry="1.5" fill="#fff" stroke="#111" stroke-width="0.8"/>
<ellipse cx="712.8" cy="133.9" rx="2.4" ry="1.5" fill="#fff" stroke="#111" stroke-width="0.8"/>
<ellipse cx="689" cy="147.5" rx="2.4" ry="1.5" fill="#fff" stroke="#111" stroke-width="0.8"/>
<path d="M632.5,129.8 Q644,126.5 654.5,128.5 L654,131 Q644,128.8 632.5,129.8 Z" fill="#111" stroke="#111" stroke-width="0.6" />
<path d="M690,161.3 Q703,158.5 713.5,165.5 L712.5,168 Q703,161.5 690,161.3 Z" fill="#111" stroke="#111" stroke-width="0.6" />
<path d="M714.9 154.7 L713.5 172.0" fill="none" stroke="#222" stroke-width="1.08" />
<ellipse cx="732.9" cy="166.6" rx="7.17" ry="9.66" transform="rotate(20 732.9 166.6)" fill="#fff" stroke="#111" stroke-width="1.1" />
<ellipse cx="733.3" cy="167.0" rx="4.26" ry="6.63" transform="rotate(20 733.3 167.0)" fill="#888" stroke="#111" stroke-width="0.9" />
<path d="M712.8 123.8 L712.8 131.7" fill="none" stroke="#222" stroke-width="0.84" />
<path d="M706.3,97.6 L706.3,100.2 A5.8 3.6 0 0 0 717.9,100.2 L717.9,97.6 Z" fill="#fff" stroke="#111" stroke-width="1.1"/>
<ellipse cx="712.1" cy="97.6" rx="5.8" ry="3.6" fill="#fff" stroke="#111" stroke-width="1.1"/>
<ellipse cx="712.1" cy="97.6" rx="3.2" ry="2.0" fill="#333" stroke="#111" stroke-width="0.7"/>
<path d="M709.2 103.3 L709.2 100.7" fill="none" stroke="#111" stroke-width="0.6" />
<path d="M715.0 103.3 L715.0 100.7" fill="none" stroke="#111" stroke-width="0.6" />
<ellipse cx="712.1" cy="110.5" rx="5.6" ry="3.2" fill="#fff" stroke="#111" stroke-width="1.2"/>
<ellipse cx="712.1" cy="109.5" rx="5.6" ry="3.2" fill="#fff" stroke="#111" stroke-width="1.1"/>
<ellipse cx="712.1" cy="109.8" rx="3.1" ry="1.8" fill="#fff" stroke="#111" stroke-width="1.3"/>
<path d="M712.1 111.1 L712.6 113.7" fill="none" stroke="#111" stroke-width="0.9" />
<ellipse cx="712.8" cy="120.7" rx="6.4" ry="3.7" fill="#fff" stroke="#111" stroke-width="1.2"/>
<ellipse cx="712.8" cy="119.8" rx="6.4" ry="3.7" fill="#fff" stroke="#111" stroke-width="1.1"/>
<ellipse cx="712.8" cy="120.0" rx="3.2" ry="1.7" fill="#fff" stroke="#111" stroke-width="1.1"/>
<text x="768.4" y="103.0" font-size="10.6" text-anchor="middle" textLength="5.3" lengthAdjust="spacingAndGlyphs"  style="stroke-width:0.32px">1</text>
<path d="M717.8 100.0 L763.0 99.2" fill="none" stroke="#222" stroke-width="0.96" />
<text x="768.4" y="118.2" font-size="10.6" text-anchor="middle" textLength="7.5" lengthAdjust="spacingAndGlyphs"  style="stroke-width:0.32px">2</text>
<path d="M717.8 110.5 L763.0 114.2" fill="none" stroke="#222" stroke-width="0.96" />
<text x="768.4" y="133.5" font-size="10.6" text-anchor="middle" textLength="7.5" lengthAdjust="spacingAndGlyphs"  style="stroke-width:0.32px">3</text>
<path d="M718.6 121.0 L763.0 128.8" fill="none" stroke="#222" stroke-width="0.96" />
<text x="768.5" y="149.3" font-size="10.6" text-anchor="middle" textLength="12.8" lengthAdjust="spacingAndGlyphs"  style="stroke-width:0.32px">19</text>
<path d="M722.0 148.9 L760.0 145.5" fill="none" stroke="#222" stroke-width="0.96" />
<path d="M606.9 229.8 L606.9 242.0" fill="none" stroke="#222" stroke-width="0.96" />
<path d="M655.5 255.0 L655.5 267.5" fill="none" stroke="#222" stroke-width="0.96" />
<path d="M714.6 172.0 L714.6 176.6 L833.0 239.0 L833.0 390.0" fill="none" stroke="#222" stroke-width="0.96" />
<path d="M699.1 276.4 L699.1 286.7 L822.7 351.3 L822.7 395.0" fill="none" stroke="#222" stroke-width="0.96" />
<path d="M749.9 303.4 L749.9 313.0" fill="none" stroke="#222" stroke-width="0.96" />
<circle cx="606.9" cy="200.1" r="6.6" fill="#fff" stroke="#111" stroke-width="1.0"/>
<path d="M595.2,176.9 L595.7,192.4 A11.2 5.0 0 0 0 618.1,192.4 L618.6,176.9 Z" fill="#fff" stroke="#111" stroke-width="1.1"/>
<ellipse cx="606.9" cy="176.9" rx="11.7" ry="5.0" fill="#fff" stroke="#111" stroke-width="1.1"/>
<path d="M595.4,177.4 A11.7 5.0 0 0 0 618.4,177.4" fill="none" stroke="#111" stroke-width="1.6"/>
<ellipse cx="606.9" cy="176.6" rx="7.5" ry="3.2" fill="#fff" stroke="#222" stroke-width="0.9"/>
<ellipse cx="606.9" cy="176.3" rx="2.7" ry="1.6" fill="#333" stroke="#111" stroke-width="0.8"/>
<path d="M605.7,175.1 L605.7,177.5 M608.1,175.1 L608.1,177.5" stroke="#ddd" stroke-width="0.6"/>
<path d="M595.5,180.4 A11.7 5.0 0 0 0 618.3,180.4" fill="none" stroke="#555" stroke-width="0.6"/>
<ellipse cx="606.9" cy="212.7" rx="11.7" ry="5.2" fill="#fff" stroke="#111" stroke-width="1.6"/>
<ellipse cx="606.9" cy="210.6" rx="11.7" ry="5.2" fill="#fff" stroke="#111" stroke-width="1.1"/>
<ellipse cx="606.9" cy="210.9" rx="7.3" ry="3.2" fill="#fff" stroke="#111" stroke-width="1.2"/>
<ellipse cx="606.9" cy="210.7" rx="4.7" ry="1.6" fill="#eee" stroke="#444" stroke-width="0.7"/>
<ellipse cx="606.9" cy="165.1" rx="11.7" ry="5.1" fill="#fff" stroke="#111" stroke-width="1.4"/>
<ellipse cx="606.9" cy="164.9" rx="10.3" ry="3.9" fill="#fff" stroke="#222" stroke-width="0.8"/>
<ellipse cx="606.9" cy="223.9" rx="11.7" ry="5.3" fill="#fff" stroke="#111" stroke-width="1.4"/>
<ellipse cx="606.9" cy="223.7" rx="10.3" ry="4.1" fill="#fff" stroke="#222" stroke-width="0.8"/>
<circle cx="606.9" cy="249.7" r="7.6" fill="#fff" stroke="#111" stroke-width="0.9"/>
<text x="606.9" y="253.8" font-size="10.6" text-anchor="middle"   style="stroke-width:0.32px">A</text>
<text x="604.5" y="155.6" font-size="10" text-anchor="middle" textLength="20.4" lengthAdjust="spacingAndGlyphs">BALL</text>
<text x="578.2" y="163.0" font-size="10.6" text-anchor="middle" textLength="7.5" lengthAdjust="spacingAndGlyphs"  style="stroke-width:0.32px">4</text>
<path d="M582.7 160.5 L597.0 163.0" fill="none" stroke="#222" stroke-width="0.96" />
<text x="579.4" y="179.2" font-size="10.6" text-anchor="middle" textLength="7.5" lengthAdjust="spacingAndGlyphs"  style="stroke-width:0.32px">5</text>
<path d="M583.9 176.7 L596.0 181.0" fill="none" stroke="#222" stroke-width="0.96" />
<text x="579.4" y="194.1" font-size="10.6" text-anchor="middle" textLength="7.5" lengthAdjust="spacingAndGlyphs"  style="stroke-width:0.32px">6</text>
<path d="M583.9 191.6 L601.0 198.0" fill="none" stroke="#222" stroke-width="0.96" />
<text x="579.4" y="208.5" font-size="10.6" text-anchor="middle" textLength="7.5" lengthAdjust="spacingAndGlyphs"  style="stroke-width:0.32px">7</text>
<path d="M583.9 206.0 L596.0 209.0" fill="none" stroke="#222" stroke-width="0.96" />
<text x="579.4" y="220.4" font-size="10.6" text-anchor="middle" textLength="7.5" lengthAdjust="spacingAndGlyphs"  style="stroke-width:0.32px">4</text>
<path d="M583.9 217.9 L596.0 222.0" fill="none" stroke="#222" stroke-width="0.96" />
<path d="M648.8,224.7 L648.8,228.7 A6.7 2.9 0 0 0 662.2,228.7 L662.2,224.7" fill="#fff" stroke="#111" stroke-width="1.0"/>
<ellipse cx="655.5" cy="224.7" rx="6.7" ry="2.7" fill="#fff" stroke="#111" stroke-width="1.0"/>
<path d="M643.7,202.2 L644.2,217.9 A11.3 5.0 0 0 0 666.8,217.9 L667.3,202.2 Z" fill="#fff" stroke="#111" stroke-width="1.1"/>
<ellipse cx="655.5" cy="202.2" rx="11.8" ry="5.0" fill="#fff" stroke="#111" stroke-width="1.1"/>
<path d="M643.9,202.7 A11.8 5.0 0 0 0 667.1,202.7" fill="none" stroke="#111" stroke-width="1.6"/>
<ellipse cx="655.5" cy="201.9" rx="7.6" ry="3.2" fill="#fff" stroke="#222" stroke-width="0.9"/>
<ellipse cx="655.5" cy="201.6" rx="2.7" ry="1.6" fill="#333" stroke="#111" stroke-width="0.8"/>
<path d="M654.3,200.4 L654.3,202.8 M656.7,200.4 L656.7,202.8" stroke="#ddd" stroke-width="0.6"/>
<path d="M644.0,205.7 A11.8 5.0 0 0 0 667.0,205.7" fill="none" stroke="#555" stroke-width="0.6"/>
<ellipse cx="655.5" cy="238.4" rx="11.8" ry="5.2" fill="#fff" stroke="#111" stroke-width="1.6"/>
<ellipse cx="655.5" cy="236.3" rx="11.8" ry="5.2" fill="#fff" stroke="#111" stroke-width="1.1"/>
<ellipse cx="655.5" cy="236.6" rx="7.3" ry="3.2" fill="#fff" stroke="#111" stroke-width="1.2"/>
<ellipse cx="655.5" cy="236.4" rx="4.7" ry="1.6" fill="#eee" stroke="#444" stroke-width="0.7"/>
<ellipse cx="655.5" cy="190.3" rx="11.8" ry="5.1" fill="#fff" stroke="#111" stroke-width="1.4"/>
<ellipse cx="655.5" cy="190.1" rx="10.4" ry="3.9" fill="#fff" stroke="#222" stroke-width="0.8"/>
<ellipse cx="655.5" cy="249.7" rx="11.8" ry="5.3" fill="#fff" stroke="#111" stroke-width="1.4"/>
<ellipse cx="655.5" cy="249.5" rx="10.4" ry="4.1" fill="#fff" stroke="#222" stroke-width="0.8"/>
<circle cx="655.5" cy="275.3" r="7.6" fill="#fff" stroke="#111" stroke-width="0.9"/>
<text x="655.5" y="279.4" font-size="10.6" text-anchor="middle"   style="stroke-width:0.32px">A</text>
<text x="642.8" y="181.9" font-size="10" text-anchor="middle" textLength="20.4" lengthAdjust="spacingAndGlyphs">FLAT</text>
<text x="627.7" y="186.9" font-size="10.6" text-anchor="middle" textLength="7.5" lengthAdjust="spacingAndGlyphs"  style="stroke-width:0.32px">4</text>
<path d="M632.2 184.4 L646.0 188.5" fill="none" stroke="#222" stroke-width="0.96" />
<text x="627.7" y="203.7" font-size="10.6" text-anchor="middle" textLength="7.5" lengthAdjust="spacingAndGlyphs"  style="stroke-width:0.32px">5</text>
<path d="M632.2 201.2 L645.0 207.0" fill="none" stroke="#222" stroke-width="0.96" />
<text x="627.7" y="219.9" font-size="10.6" text-anchor="middle" textLength="7.5" lengthAdjust="spacingAndGlyphs"  style="stroke-width:0.32px">6</text>
<path d="M632.2 217.4 L649.0 223.0" fill="none" stroke="#222" stroke-width="0.96" />
<text x="627.7" y="233.6" font-size="10.6" text-anchor="middle" textLength="7.5" lengthAdjust="spacingAndGlyphs"  style="stroke-width:0.32px">7</text>
<path d="M632.2 231.1 L645.0 234.0" fill="none" stroke="#222" stroke-width="0.96" />
<text x="627.7" y="245.6" font-size="10.6" text-anchor="middle" textLength="7.5" lengthAdjust="spacingAndGlyphs"  style="stroke-width:0.32px">4</text>
<path d="M632.2 243.1 L645.0 248.0" fill="none" stroke="#222" stroke-width="0.96" />
<path d="M692.4,246.0 L692.4,250.0 A6.7 2.9 0 0 0 705.8,250.0 L705.8,246.0" fill="#fff" stroke="#111" stroke-width="1.0"/>
<ellipse cx="699.1" cy="246.0" rx="6.7" ry="2.7" fill="#fff" stroke="#111" stroke-width="1.0"/>
<path d="M687.3,223.5 L687.8,239.2 A11.3 5.0 0 0 0 710.4,239.2 L710.9,223.5 Z" fill="#fff" stroke="#111" stroke-width="1.1"/>
<ellipse cx="699.1" cy="223.5" rx="11.8" ry="5.0" fill="#fff" stroke="#111" stroke-width="1.1"/>
<path d="M687.5,224.0 A11.8 5.0 0 0 0 710.7,224.0" fill="none" stroke="#111" stroke-width="1.6"/>
<ellipse cx="699.1" cy="223.2" rx="7.6" ry="3.2" fill="#fff" stroke="#222" stroke-width="0.9"/>
<ellipse cx="699.1" cy="222.9" rx="2.7" ry="1.6" fill="#333" stroke="#111" stroke-width="0.8"/>
<path d="M697.9,221.7 L697.9,224.1 M700.3,221.7 L700.3,224.1" stroke="#ddd" stroke-width="0.6"/>
<path d="M687.6,227.0 A11.8 5.0 0 0 0 710.6,227.0" fill="none" stroke="#555" stroke-width="0.6"/>
<ellipse cx="699.1" cy="259.7" rx="11.8" ry="5.2" fill="#fff" stroke="#111" stroke-width="1.6"/>
<ellipse cx="699.1" cy="257.6" rx="11.8" ry="5.2" fill="#fff" stroke="#111" stroke-width="1.1"/>
<ellipse cx="699.1" cy="257.9" rx="7.3" ry="3.2" fill="#fff" stroke="#111" stroke-width="1.2"/>
<ellipse cx="699.1" cy="257.7" rx="4.7" ry="1.6" fill="#eee" stroke="#444" stroke-width="0.7"/>
<ellipse cx="699.1" cy="211.6" rx="11.8" ry="5.1" fill="#fff" stroke="#111" stroke-width="1.4"/>
<ellipse cx="699.1" cy="211.4" rx="10.4" ry="3.9" fill="#fff" stroke="#222" stroke-width="0.8"/>
<ellipse cx="699.1" cy="271.0" rx="11.8" ry="5.3" fill="#fff" stroke="#111" stroke-width="1.4"/>
<ellipse cx="699.1" cy="270.8" rx="10.4" ry="4.1" fill="#fff" stroke="#222" stroke-width="0.8"/>
<text x="697.0" y="201.1" font-size="10" text-anchor="middle" textLength="20.4" lengthAdjust="spacingAndGlyphs">FLAT</text>
<text x="728.1" y="225.8" font-size="10.6" text-anchor="middle" textLength="7.5" lengthAdjust="spacingAndGlyphs"  style="stroke-width:0.32px">4</text>
<path d="M709.5 214.1 L723.6 223.3" fill="none" stroke="#222" stroke-width="0.96" />
<text x="728.1" y="241.8" font-size="10.6" text-anchor="middle" textLength="7.5" lengthAdjust="spacingAndGlyphs"  style="stroke-width:0.32px">5</text>
<path d="M710.0 232.0 L723.6 239.3" fill="none" stroke="#222" stroke-width="0.96" />
<text x="728.1" y="255.7" font-size="10.6" text-anchor="middle" textLength="7.5" lengthAdjust="spacingAndGlyphs"  style="stroke-width:0.32px">6</text>
<path d="M705.0 247.5 L723.6 253.2" fill="none" stroke="#222" stroke-width="0.96" />
<text x="728.1" y="270.2" font-size="10.6" text-anchor="middle" textLength="7.5" lengthAdjust="spacingAndGlyphs"  style="stroke-width:0.32px">7</text>
<path d="M710.0 261.0 L723.6 267.7" fill="none" stroke="#222" stroke-width="0.96" />
<text x="728.1" y="282.2" font-size="10.6" text-anchor="middle" textLength="7.5" lengthAdjust="spacingAndGlyphs"  style="stroke-width:0.32px">4</text>
<path d="M710.0 274.0 L723.6 279.7" fill="none" stroke="#222" stroke-width="0.96" />
<circle cx="749.9" cy="273.2" r="6.7" fill="#fff" stroke="#111" stroke-width="1.0"/>
<path d="M738.1,249.9 L738.6,265.5 A11.3 5.0 0 0 0 761.2,265.5 L761.7,249.9 Z" fill="#fff" stroke="#111" stroke-width="1.1"/>
<ellipse cx="749.9" cy="249.9" rx="11.8" ry="5.0" fill="#fff" stroke="#111" stroke-width="1.1"/>
<path d="M738.3,250.4 A11.8 5.0 0 0 0 761.5,250.4" fill="none" stroke="#111" stroke-width="1.6"/>
<ellipse cx="749.9" cy="249.6" rx="7.5" ry="3.2" fill="#fff" stroke="#222" stroke-width="0.9"/>
<ellipse cx="749.9" cy="249.3" rx="2.7" ry="1.6" fill="#333" stroke="#111" stroke-width="0.8"/>
<path d="M748.7,248.1 L748.7,250.5 M751.1,248.1 L751.1,250.5" stroke="#ddd" stroke-width="0.6"/>
<path d="M738.4,253.3 A11.8 5.0 0 0 0 761.4,253.3" fill="none" stroke="#555" stroke-width="0.6"/>
<ellipse cx="749.9" cy="285.9" rx="11.8" ry="5.2" fill="#fff" stroke="#111" stroke-width="1.6"/>
<ellipse cx="749.9" cy="283.7" rx="11.8" ry="5.2" fill="#fff" stroke="#111" stroke-width="1.1"/>
<ellipse cx="749.9" cy="284.0" rx="7.3" ry="3.2" fill="#fff" stroke="#111" stroke-width="1.2"/>
<ellipse cx="749.9" cy="283.8" rx="4.7" ry="1.6" fill="#eee" stroke="#444" stroke-width="0.7"/>
<ellipse cx="749.9" cy="238.0" rx="11.8" ry="5.1" fill="#fff" stroke="#111" stroke-width="1.4"/>
<ellipse cx="749.9" cy="237.8" rx="10.4" ry="3.9" fill="#fff" stroke="#222" stroke-width="0.8"/>
<ellipse cx="749.9" cy="297.1" rx="11.8" ry="5.3" fill="#fff" stroke="#111" stroke-width="1.4"/>
<ellipse cx="749.9" cy="296.9" rx="10.4" ry="4.1" fill="#fff" stroke="#222" stroke-width="0.8"/>
<text x="751.0" y="228.1" font-size="10" text-anchor="middle" textLength="20.4" lengthAdjust="spacingAndGlyphs">BALL</text>
<text x="775.9" y="250.1" font-size="10.6" text-anchor="middle" textLength="7.5" lengthAdjust="spacingAndGlyphs"  style="stroke-width:0.32px">4</text>
<path d="M760.0 240.0 L771.4 247.6" fill="none" stroke="#222" stroke-width="0.96" />
<text x="775.9" y="266.7" font-size="10.6" text-anchor="middle" textLength="7.5" lengthAdjust="spacingAndGlyphs"  style="stroke-width:0.32px">5</text>
<path d="M761.0 257.0 L771.4 264.2" fill="none" stroke="#222" stroke-width="0.96" />
<text x="775.9" y="283.3" font-size="10.6" text-anchor="middle" textLength="7.5" lengthAdjust="spacingAndGlyphs"  style="stroke-width:0.32px">6</text>
<path d="M756.0 274.0 L771.4 280.8" fill="none" stroke="#222" stroke-width="0.96" />
<text x="775.9" y="295.7" font-size="10.6" text-anchor="middle" textLength="7.5" lengthAdjust="spacingAndGlyphs"  style="stroke-width:0.32px">7</text>
<path d="M761.0 286.0 L771.4 293.2" fill="none" stroke="#222" stroke-width="0.96" />
<text x="775.9" y="308.2" font-size="10.6" text-anchor="middle" textLength="7.5" lengthAdjust="spacingAndGlyphs"  style="stroke-width:0.32px">4</text>
<path d="M761.0 299.0 L771.4 305.7" fill="none" stroke="#222" stroke-width="0.96" />
<text x="593.7" y="269.5" font-size="10.6" text-anchor="middle" textLength="15.0" lengthAdjust="spacingAndGlyphs" >46</text>
<path d="M600.9 271.7 L612.9 288.5" fill="none" stroke="#222" stroke-width="0.84" />
<path d="M567.1 341.5 L581.5 345.5 L604.5 300.0 L617.0 305.0" fill="none" stroke="#222" stroke-width="0.96" />
<path d="M630.8,303.6 L665.9,320.4 C669.5,322.5 669,329 665,331.5 C663,332.8 661,332.8 659.5,332.3 L624.4,317.2 Z" fill="#fff" stroke="#111" stroke-width="1.1" />
<path d="M643.4,309.7 L642.0,312.7" stroke="#111" stroke-width="2.8" stroke-linecap="round"/>
<path d="M643.4,309.7 L642.0,312.7" stroke="#fff" stroke-width="1.0" stroke-linecap="round"/>
<path d="M649.8,312.7 L648.4,315.7" stroke="#111" stroke-width="2.8" stroke-linecap="round"/>
<path d="M649.8,312.7 L648.4,315.7" stroke="#fff" stroke-width="1.0" stroke-linecap="round"/>
<path d="M656.2,315.7 L654.8,318.7" stroke="#111" stroke-width="2.8" stroke-linecap="round"/>
<path d="M656.2,315.7 L654.8,318.7" stroke="#fff" stroke-width="1.0" stroke-linecap="round"/>
<path d="M662.6,318.7 L661.2,321.7" stroke="#111" stroke-width="2.8" stroke-linecap="round"/>
<path d="M662.6,318.7 L661.2,321.7" stroke="#fff" stroke-width="1.0" stroke-linecap="round"/>
<path d="M637.9,320.1 L636.6,322.9" stroke="#111" stroke-width="2.8" stroke-linecap="round"/>
<path d="M637.9,320.1 L636.6,322.9" stroke="#fff" stroke-width="1.0" stroke-linecap="round"/>
<path d="M644.2,322.9 L642.9,325.7" stroke="#111" stroke-width="2.8" stroke-linecap="round"/>
<path d="M644.2,322.9 L642.9,325.7" stroke="#fff" stroke-width="1.0" stroke-linecap="round"/>
<path d="M650.6,325.7 L649.3,328.5" stroke="#111" stroke-width="2.8" stroke-linecap="round"/>
<path d="M650.6,325.7 L649.3,328.5" stroke="#fff" stroke-width="1.0" stroke-linecap="round"/>
<path d="M657.2,328.5 L655.9,331.3" stroke="#111" stroke-width="2.8" stroke-linecap="round"/>
<path d="M657.2,328.5 L655.9,331.3" stroke="#fff" stroke-width="1.0" stroke-linecap="round"/>
<path d="M625.5,305.2 L631,303 L634,304.5 L634.5,316.5 L630,318.8 L626,317.5 Z" fill="#2a2a2a" stroke="#111" stroke-width="0.9" />
<path d="M627.0 304.5 L627.3 317.5" fill="none" stroke="#999" stroke-width="0.5" />
<path d="M628.8 304.5 L629.1 317.5" fill="none" stroke="#999" stroke-width="0.5" />
<path d="M630.6 304.5 L630.9 317.5" fill="none" stroke="#999" stroke-width="0.5" />
<path d="M632.4 304.5 L632.7 317.5" fill="none" stroke="#999" stroke-width="0.5" />
<ellipse cx="622.6" cy="310.6" rx="3.62" ry="4.93" transform="rotate(20 622.6 310.6)" fill="#fff" stroke="#111" stroke-width="1.2" />
<ellipse cx="622.5" cy="310.3" rx="2.07" ry="2.99" transform="rotate(20 622.5 310.3)" fill="#fff" stroke="#111" stroke-width="0.8" />
<path d="M624.5 304.5 L612.9 288.5" fill="none" stroke="#222" stroke-width="0.84" />
<ellipse cx="612.9" cy="370.6" rx="4.46" ry="10.21" transform="rotate(33 612.9 370.6)" fill="#fff" stroke="#111" stroke-width="1.5" />
<ellipse cx="625.2" cy="375.0" rx="3.49" ry="6.28" transform="rotate(33 625.2 375.0)" fill="#fff" stroke="#111" stroke-width="1.4" />
<ellipse cx="634.6" cy="381.2" rx="7.18" ry="9.66" transform="rotate(33 634.6 381.2)" fill="#fff" stroke="#111" stroke-width="1.0" />
<ellipse cx="635.5" cy="381.9" rx="7.18" ry="9.66" transform="rotate(33 635.5 381.9)" fill="#fff" stroke="#111" stroke-width="1.3" />
<ellipse cx="636.0" cy="382.2" rx="4.22" ry="5.96" transform="rotate(33 636.0 382.2)" fill="#fff" stroke="#111" stroke-width="1.0" />
<ellipse cx="636.2" cy="382.4" rx="2.05" ry="3.57" transform="rotate(33 636.2 382.4)" fill="#777" stroke="#111" stroke-width="0.5" />
<ellipse cx="647.5" cy="387.3" rx="3.49" ry="6.28" transform="rotate(33 647.5 387.3)" fill="#fff" stroke="#111" stroke-width="1.4" />
<ellipse cx="662.1" cy="397.4" rx="6.79" ry="11.33" transform="rotate(33 662.1 397.4)" fill="none" stroke="#111" stroke-width="2.8" pathLength="100" stroke-dasharray="0 5 87 8"/>
<ellipse cx="662.1" cy="397.4" rx="6.79" ry="11.33" transform="rotate(33 662.1 397.4)" fill="none" stroke="#fff" stroke-width="0.9" pathLength="100" stroke-dasharray="0 6 85 9"/>
<circle cx="669.6" cy="395.9" r="1.1" fill="#333" stroke="#111" stroke-width="0.3"/>
<circle cx="665.3" cy="403.6" r="1.1" fill="#333" stroke="#111" stroke-width="0.3"/>
<ellipse cx="678.0" cy="405.0" rx="9.87" ry="13.85" transform="rotate(33 678.0 405.0)" fill="#fff" stroke="#111" stroke-width="1.0" />
<ellipse cx="679.6" cy="405.9" rx="9.87" ry="13.85" transform="rotate(33 679.6 405.9)" fill="#fff" stroke="#111" stroke-width="1.1" />
<ellipse cx="680.6" cy="406.3" rx="5.66" ry="8.15" transform="rotate(33 680.6 406.3)" fill="#fff" stroke="#111" stroke-width="0.9" />
<ellipse cx="680.6" cy="406.3" rx="3.30" ry="5.31" transform="rotate(33 680.6 406.3)" fill="#555" stroke="#111" stroke-width="0.6" />
<circle cx="680.8" cy="406.5" r="1.3" fill="#fff" stroke="#111" stroke-width="0.4"/>
<ellipse cx="693.2" cy="413.5" rx="2.24" ry="4.29" transform="rotate(33 693.2 413.5)" fill="#fff" stroke="#111" stroke-width="1.3" />
<ellipse cx="720.0" cy="428.8" rx="22.30" ry="38.50" transform="rotate(33 720.0 428.8)" fill="#fff" stroke="#111" stroke-width="1.2" />
<ellipse cx="719.0" cy="428.0" rx="21.36" ry="37.59" transform="rotate(33 719.0 428.0)" fill="none" stroke="#111" stroke-width="0.5" />
<ellipse cx="719.8" cy="428.6" rx="21.56" ry="38.05" transform="rotate(33 719.8 428.6)" fill="none" stroke="#111" stroke-width="1.7" pathLength="100" stroke-dasharray="0 40 28 100"/>
<ellipse cx="720.8" cy="429.3" rx="19.54" ry="33.45" transform="rotate(33 720.8 429.3)" fill="none" stroke="#111" stroke-width="0.8" stroke-dasharray="30 4 12 3"/>
<ellipse cx="721.0" cy="429.5" rx="15.41" ry="26.81" transform="rotate(33 721.0 429.5)" fill="none" stroke="#111" stroke-width="0.8" stroke-dasharray="14 3"/>
<ellipse cx="721.0" cy="430.0" rx="2.24" ry="4.29" transform="rotate(33 721.0 430.0)" fill="none" stroke="#111" stroke-width="0.8" />
<ellipse cx="721.0" cy="430.0" rx="8.74" ry="15.06" transform="rotate(33 721.0 430.0)" fill="none" stroke="#111" stroke-width="0.8" />
<circle cx="720.8" cy="429.5" r="1.4" fill="#222" stroke="#111" stroke-width="0.3"/>
<path d="M720.8 429.5 L745.6 442.3" fill="none" stroke="#222" stroke-width="0.96" />
<ellipse cx="745.6" cy="442.3" rx="2.24" ry="4.29" transform="rotate(33 745.6 442.3)" fill="#fff" stroke="#111" stroke-width="1.3" />
<path d="M748.21,455.63 L748.28,454.60 L748.42,453.53 L748.63,452.43 L748.90,451.32 L749.24,450.21 L749.65,449.09 L750.11,447.99 L750.63,446.90 L751.21,445.84 L751.83,444.82 L752.49,443.83 L753.19,442.90 L753.93,442.03 L754.69,441.21 L755.47,440.47 L756.27,439.81 L757.08,439.22 L757.89,438.72 L758.70,438.31 L759.50,437.99 L760.28,437.76 L761.05,437.63 L761.78,437.60 L762.49,437.67 L763.15,437.83 L763.77,438.09 L767.77,439.89 L768.35,440.24 L768.87,440.68 L769.34,441.21 L769.74,441.83 L770.09,442.52 L770.37,443.29 L770.58,444.12 L770.72,445.02 L770.79,445.97 L770.79,446.97 L770.72,448.00 L770.58,449.07 L770.37,450.17 L770.10,451.28 L769.76,452.39 L769.35,453.51 L768.89,454.61 L768.37,455.70 L767.79,456.76 L767.17,457.78 L766.51,458.77 L765.81,459.70 L765.07,460.57 L764.31,461.39 L763.53,462.13 L762.73,462.79 L761.92,463.38 L761.11,463.88 L760.30,464.29 L759.50,464.61 L758.72,464.84 L757.95,464.97 L757.22,465.00 L756.51,464.93 L755.85,464.77 L755.23,464.51 L751.23,462.71 L750.65,462.36 L750.13,461.92 L749.66,461.39 L749.26,460.77 L748.91,460.08 L748.63,459.31 L748.42,458.48 L748.28,457.58 L748.21,456.63 Z" fill="#fff" stroke="#111" stroke-width="1.1"/>
<ellipse cx="761.5" cy="452.2" rx="7.71" ry="13.82" transform="rotate(27 761.5 452.2)" fill="#fff" stroke="#111" stroke-width="1.1" />
<path d="M756.6,450.1 L766.6,444.4 L770.9,447.2 L761.6,451.2 Z" fill="#fff" stroke="#111" stroke-width="1.0" />
<path d="M761.6,451.2 L770.9,447.2 L770.9,457.3 L761.6,461.6 Z" fill="#fff" stroke="#111" stroke-width="1.0" />
<path d="M756.6,450.1 L761.6,451.2 L761.6,461.6 L756.6,460.9 Z" fill="#fff" stroke="#111" stroke-width="1.0" />
<path d="M757.8 451.0 L757.9 460.5" fill="none" stroke="#222" stroke-width="0.6" />
<text x="630.8" y="335.7" font-size="10.6" text-anchor="middle" textLength="15.0" lengthAdjust="spacingAndGlyphs" >23</text>
<path d="M630.5 337.2 L617.4 361.6" fill="none" stroke="#222" stroke-width="0.84" />
<text x="644.2" y="340.8" font-size="10.6" text-anchor="middle" textLength="15.0" lengthAdjust="spacingAndGlyphs" >22</text>
<path d="M642.0 342.6 L626.3 370.0" fill="none" stroke="#222" stroke-width="0.84" />
<text x="658.7" y="346.4" font-size="10.6" text-anchor="middle" textLength="15.0" lengthAdjust="spacingAndGlyphs" >26</text>
<path d="M657.6 347.5 L639.7 373.9" fill="none" stroke="#222" stroke-width="0.84" />
<text x="699.0" y="316.2" font-size="10.6" text-anchor="middle" textLength="15.0" lengthAdjust="spacingAndGlyphs" >22</text>
<path d="M695.8 318.0 L652.0 382.9" fill="none" stroke="#222" stroke-width="0.84" />
<text x="712.4" y="325.2" font-size="10.6" text-anchor="middle" textLength="12.8" lengthAdjust="spacingAndGlyphs" >21</text>
<path d="M709.8 326.6 L667.7 389.6" fill="none" stroke="#222" stroke-width="0.84" />
<text x="731.5" y="336.8" font-size="10.6" text-anchor="middle" textLength="12.8" lengthAdjust="spacingAndGlyphs" >13</text>
<path d="M727.7 338.1 L686.8 394.3" fill="none" stroke="#222" stroke-width="0.84" />
<text x="748.1" y="347.0" font-size="10.6" text-anchor="middle" textLength="10.6" lengthAdjust="spacingAndGlyphs" >11</text>
<path d="M745.6 348.3 L695.8 410.2" fill="none" stroke="#222" stroke-width="0.84" />
<text x="766.0" y="356.0" font-size="10.6" text-anchor="middle" textLength="15.0" lengthAdjust="spacingAndGlyphs" >27</text>
<path d="M763.5 358.5 L737.9 395.6" fill="none" stroke="#222" stroke-width="0.84" />
<text x="782.6" y="367.5" font-size="10.6" text-anchor="middle" textLength="10.6" lengthAdjust="spacingAndGlyphs" >11</text>
<path d="M780.1 368.8 L747.2 439.2" fill="none" stroke="#222" stroke-width="0.84" />
<text x="799.2" y="376.4" font-size="10.6" text-anchor="middle" textLength="7.5" lengthAdjust="spacingAndGlyphs" >9</text>
<path d="M798.0 377.7 L764.8 440.3" fill="none" stroke="#222" stroke-width="0.84" />
<path d="M704.1 513.9 L704.1 509.8 L727.4 496.6 L780.0 525.5 L808.1 509.4" fill="none" stroke="#222" stroke-width="0.96" />
<path d="M809.3,401.6 L814.3,401.6 L816.6,444.7 L811.6,444.7 Z" fill="#fff" stroke="#111" stroke-width="0.9" />
<path d="M809.4,402.5 L814.2,402.5 L814.7,412 L809.9,412 Z" fill="#333" stroke="#111" stroke-width="0.4" />
<path d="M831.6,388.6 L836.6,388.6 L837.5,433.2 L832.5,433.2 Z" fill="#fff" stroke="#111" stroke-width="0.9" />
<path d="M831.7,389.5 L836.5,389.5 L836.7,399 L831.9,399 Z" fill="#333" stroke="#111" stroke-width="0.4" />
<path d="M811,520 L816,520 L816,543 L811,543 Z" fill="#333" stroke="#111" stroke-width="0.8" />
<path d="M835.5,518 L840.5,518 L840.5,533 L835.5,533 Z" fill="#333" stroke="#111" stroke-width="0.8" />
<path d="M806.4,444.3 L815.1,441.7 L852,446 L868,466 L824,522.5 L811.6,523.4 C806,521 802,519 799.3,516.4 C794,513 791,510 788.8,507.6 C785,502 783.5,498 783.5,495.3 C783,489 783,483 783.5,477.7 C785,470 787.5,464 790.5,460.1 C795,453 800,448 806.4,444.3 Z" fill="#fff" stroke="#111" stroke-width="1.1" />
<path d="M806.4 447.8 L798.5 472.5" fill="none" stroke="#222" stroke-width="1.68" />
<path d="M811.6,434.7 L811.6,449.6 L822,452 L842.4,444.3 L842.4,434.7 Z" fill="#fff" stroke="#111" stroke-width="0.9" />
<path d="M842.4 435.5 L852.0 446.0" fill="none" stroke="#222" stroke-width="1.08" />
<path d="M811.6 444.0 L806.4 444.3" fill="none" stroke="#222" stroke-width="1.08" />
<ellipse cx="826.9" cy="434.7" rx="15.40" ry="6.20" transform="rotate(0 826.9 434.7)" fill="#fff" stroke="#111" stroke-width="1.0" />
<ellipse cx="826.9" cy="435.5" rx="10.50" ry="4.30" transform="rotate(0 826.9 435.5)" fill="#fff" stroke="#111" stroke-width="0.9" />
<path d="M821.8 380.0 L821.8 437.0" fill="none" stroke="#222" stroke-width="0.84" />
<ellipse cx="836.5" cy="484.3" rx="27.49" ry="41.64" transform="rotate(32 836.5 484.3)" fill="#fff" stroke="#111" stroke-width="1.2" />
<ellipse cx="837.3" cy="484.6" rx="24.25" ry="37.50" transform="rotate(32 837.3 484.6)" fill="#fff" stroke="#111" stroke-width="0.9" />
<ellipse cx="837.6" cy="484.8" rx="21.43" ry="33.76" transform="rotate(32 837.6 484.8)" fill="#bbb" stroke="#111" stroke-width="1.0" />
<path d="M836.2 484.4 L858.5 478.3" fill="none" stroke="#222" stroke-width="3.12" />
<path d="M836.2 484.4 L858.5 478.3" fill="none" stroke="#fff" stroke-width="0.9" />
<path d="M836.2 484.4 L859.4 495.0" fill="none" stroke="#222" stroke-width="3.12" />
<path d="M836.2 484.4 L859.4 495.0" fill="none" stroke="#fff" stroke-width="0.9" />
<path d="M836.2 484.4 L851.5 507.7" fill="none" stroke="#222" stroke-width="3.12" />
<path d="M836.2 484.4 L851.5 507.7" fill="none" stroke="#fff" stroke-width="0.9" />
<path d="M836.2 484.4 L837.7 511.5" fill="none" stroke="#222" stroke-width="3.12" />
<path d="M836.2 484.4 L837.7 511.5" fill="none" stroke="#fff" stroke-width="0.9" />
<path d="M836.2 484.4 L823.4 504.9" fill="none" stroke="#222" stroke-width="3.12" />
<path d="M836.2 484.4 L823.4 504.9" fill="none" stroke="#fff" stroke-width="0.9" />
<path d="M836.2 484.4 L813.9 490.5" fill="none" stroke="#222" stroke-width="3.12" />
<path d="M836.2 484.4 L813.9 490.5" fill="none" stroke="#fff" stroke-width="0.9" />
<path d="M836.2 484.4 L813.0 473.8" fill="none" stroke="#222" stroke-width="3.12" />
<path d="M836.2 484.4 L813.0 473.8" fill="none" stroke="#fff" stroke-width="0.9" />
<path d="M836.2 484.4 L820.9 461.1" fill="none" stroke="#222" stroke-width="3.12" />
<path d="M836.2 484.4 L820.9 461.1" fill="none" stroke="#fff" stroke-width="0.9" />
<path d="M836.2 484.4 L834.7 457.3" fill="none" stroke="#222" stroke-width="3.12" />
<path d="M836.2 484.4 L834.7 457.3" fill="none" stroke="#fff" stroke-width="0.9" />
<path d="M836.2 484.4 L849.0 463.9" fill="none" stroke="#222" stroke-width="3.12" />
<path d="M836.2 484.4 L849.0 463.9" fill="none" stroke="#fff" stroke-width="0.9" />
<ellipse cx="836.5" cy="484.8" rx="12.20" ry="19.18" transform="rotate(32 836.5 484.8)" fill="none" stroke="#222" stroke-width="2.6" />
<ellipse cx="836.5" cy="484.8" rx="12.20" ry="19.18" transform="rotate(32 836.5 484.8)" fill="none" stroke="#fff" stroke-width="0.9" />
<ellipse cx="833.5" cy="482.5" rx="4.80" ry="7.97" transform="rotate(25 833.5 482.5)" fill="#fff" stroke="#111" stroke-width="1.0" />
<circle cx="850.3" cy="449.6" r="1.7" fill="#fff" stroke="#111" stroke-width="0.9"/>
<circle cx="864.4" cy="468.1" r="1.7" fill="#fff" stroke="#111" stroke-width="0.9"/>
<circle cx="851.2" cy="504.1" r="1.7" fill="#fff" stroke="#111" stroke-width="0.9"/>
<circle cx="823.1" cy="517.3" r="1.7" fill="#fff" stroke="#111" stroke-width="0.9"/>
<circle cx="808.1" cy="500.6" r="1.7" fill="#fff" stroke="#111" stroke-width="0.9"/>
<circle cx="821.3" cy="466.3" r="1.7" fill="#fff" stroke="#111" stroke-width="0.9"/>
<path d="M828.1 523.0 L828.1 537.5" fill="none" stroke="#222" stroke-width="0.84" />
<circle cx="828.1" cy="546.1" r="8.5" fill="#fff" stroke="#111" stroke-width="0.9"/>
<text x="828.1" y="550.2" font-size="10.6" text-anchor="middle"   style="stroke-width:0.32px">B</text>
<text x="863.4" y="403.3" font-size="10.6" text-anchor="middle" textLength="15.0" lengthAdjust="spacingAndGlyphs" >28</text>
<path d="M862.0 405.5 L844.8 433.2" fill="none" stroke="#222" stroke-width="0.84" />
<path d="M416.2 410.0 L416.2 449.5" fill="none" stroke="#222" stroke-width="0.96" />
<path d="M472.5 403.0 L472.5 480.0" fill="none" stroke="#222" stroke-width="0.96" />
<path d="M472.4 375.0 L472.4 398.0" fill="none" stroke="#222" stroke-width="0.96" />
<path d="M405.4 481.9 L405.4 520.0" fill="none" stroke="#222" stroke-width="0.96" />
<path d="M484.5 513.0 L484.5 545.0" fill="none" stroke="#222" stroke-width="0.96" />
<path d="M387.5 515.4 L387.5 532.2" fill="none" stroke="#222" stroke-width="0.96" />
<path d="M404.9 549.3 L404.9 580.4" fill="none" stroke="#222" stroke-width="0.96" />
<path d="M484.0 560.6 L484.0 583.2" fill="none" stroke="#222" stroke-width="0.96" />
<path d="M387.9 553.0 L387.9 562.0" fill="none" stroke="#222" stroke-width="0.96" />
<path d="M502.3 553.0 L502.3 566.0" fill="none" stroke="#222" stroke-width="0.96" />
<path d="M502.3 528.1 L502.3 524.5 L592.2 524.5 L609.5 512.9 L609.5 506.5" fill="none" stroke="#222" stroke-width="0.96" />
<path d="M400.7,449.5 C401.5,447 402.5,445.5 404.3,444.7 L430.6,442.3 C432.5,443 433.7,444.3 434.2,445.9 L433,453.1 C437,459 443,466 452,471 C456,473 458,474.5 459.3,474.7 L464.1,475.9 L483.3,472.8 C485.5,473.5 487.3,475 488.1,477.1 L486.9,484.3 C488,488 490,490 492,492 L500,497.4 L509,506 L502,517.5 L483.3,510.6 L464.1,511.8 L455.7,507 L455.7,490 C446,486 432,482 421,480.7 L406.6,481.9 L400.7,478.3 Z" fill="#fff" stroke="#111" stroke-width="1.1" />
<path d="M400.7 456.7 L406.6 460.3 L425.8 459.1 L433.0 453.1" fill="none" stroke="#222" stroke-width="1.08" />
<path d="M406.6 460.3 L406.6 470.0" fill="none" stroke="#222" stroke-width="0.84" />
<path d="M456.9 481.9 L456.9 486.6 L461.7 491.4 L480.9 490.2 L486.9 484.3" fill="none" stroke="#222" stroke-width="1.08" />
<path d="M456.9 481.9 L464.1 475.9" fill="none" stroke="#222" stroke-width="1.08" />
<path d="M455.7 490.0 L456.9 486.6" fill="none" stroke="#222" stroke-width="1.08" />
<path d="M434.7 460.5 L436.7 462.3 L438.8 464.0 L440.9 465.7 L443.0 467.5 L445.2 469.2 L447.4 470.9 L449.7 472.5 L452.0 474.2 L454.4 475.9 L456.8 477.5" fill="none" stroke="#111" stroke-width="1.3" />
<path d="M433.1 465.6 L435.4 467.2 L437.7 468.7 L440.1 470.2 L442.4 471.7 L444.7 473.2 L447.0 474.6 L449.4 476.1 L451.7 477.5 L454.0 479.0 L456.3 480.4" fill="none" stroke="#111" stroke-width="1.3" />
<path d="M431.4 470.7 L434.1 472.1 L436.7 473.4 L439.3 474.7 L441.8 475.9 L444.3 477.2 L446.7 478.4 L449.1 479.7 L451.4 480.9 L453.7 482.1 L455.9 483.3" fill="none" stroke="#111" stroke-width="1.3" />
<path d="M429.7 475.9 L432.7 477.0 L435.6 478.0 L438.4 479.1 L441.2 480.2 L443.8 481.2 L446.3 482.2 L448.8 483.2 L451.1 484.2 L453.4 485.2 L455.5 486.2" fill="none" stroke="#111" stroke-width="1.3" />
<path d="M439.2,460.2 Q434.5,472.5 433.8,483.8" fill="none" stroke="#111" stroke-width="1.2"/>
<path d="M445.3,465.9 Q442.1,476.5 442.9,486.1" fill="none" stroke="#111" stroke-width="1.2"/>
<path d="M452.0,471.6 Q449.3,480.5 450.6,488.3" fill="none" stroke="#111" stroke-width="1.2"/>
<ellipse cx="417.4" cy="450.7" rx="3.5" ry="2.3" fill="#fff" stroke="#111" stroke-width="0.8"/>
<ellipse cx="428.2" cy="445.4" rx="2" ry="1.3" fill="#fff" stroke="#111" stroke-width="0.8"/>
<ellipse cx="405.4" cy="456.7" rx="2" ry="1.3" fill="#fff" stroke="#111" stroke-width="0.8"/>
<ellipse cx="472.5" cy="481.4" rx="3.5" ry="2.3" fill="#fff" stroke="#111" stroke-width="0.8"/>
<ellipse cx="484.5" cy="474.7" rx="2" ry="1.3" fill="#fff" stroke="#111" stroke-width="0.8"/>
<ellipse cx="460.5" cy="487.8" rx="2" ry="1.3" fill="#fff" stroke="#111" stroke-width="0.8"/>
<path d="M405,471.3 Q417,469.5 427.5,473 L427,475.5 Q417,472 405,471.3 Z" fill="#111" stroke="#111" stroke-width="0.6" />
<path d="M461.5,502.3 Q475,500 486.5,505 L485.5,507.5 Q475,503 461.5,502.3 Z" fill="#111" stroke="#111" stroke-width="0.6" />
<path d="M486.5 492.0 L485.5 509.0" fill="none" stroke="#222" stroke-width="1.08" />
<ellipse cx="501.3" cy="507.0" rx="7.97" ry="11.12" transform="rotate(20 501.3 507.0)" fill="#fff" stroke="#111" stroke-width="1.1" />
<ellipse cx="501.8" cy="507.5" rx="4.62" ry="7.26" transform="rotate(20 501.8 507.5)" fill="#888" stroke="#111" stroke-width="0.9" />
<text x="363.5" y="433.0" font-size="10.6" text-anchor="middle" textLength="12.8" lengthAdjust="spacingAndGlyphs"  style="stroke-width:0.32px">19</text>
<path d="M373.1 432.8 L403.1 448.3" fill="none" stroke="#222" stroke-width="0.96" />
<path d="M369,539 L449,498.5 L466,509 L466,513.0 L387,553.0 L368,544.0 Z" fill="#fff" stroke="#111" stroke-width="1.0" />
<path d="M369,539 L449,498.5 L466,509 L387,549 Z" fill="#fff" stroke="#111" stroke-width="1.0" />
<rect x="385.0" y="530.0" width="13" height="5" rx="2.5" fill="#fff" stroke="#111" stroke-width="1.2" transform="rotate(-25 391.5 532.5)"/>
<rect x="383.5" y="528.5" width="16" height="8" rx="4.0" fill="none" stroke="#111" stroke-width="0.6" transform="rotate(-25 391.5 532.5)"/>
<rect x="438.5" y="501.8" width="13" height="5" rx="2.5" fill="#fff" stroke="#111" stroke-width="1.2" transform="rotate(-25 445.0 504.3)"/>
<rect x="437.0" y="500.3" width="16" height="8" rx="4.0" fill="none" stroke="#111" stroke-width="0.6" transform="rotate(-25 445.0 504.3)"/>
<path d="M399.2,519.7 L410.5,511.2 L430.3,509.8 L434.5,516.8 L424.6,525.3 L404.9,528.1 Z" fill="#fff" stroke="#111" stroke-width="1.0" />
<ellipse cx="404.9" cy="523.9" rx="2.2" ry="1.5" fill="#fff" stroke="#111" stroke-width="0.8"/>
<ellipse cx="428.9" cy="512.6" rx="2.2" ry="1.5" fill="#fff" stroke="#111" stroke-width="0.8"/>
<path d="M425,568 L503,527.5 L522,538.5 L522,542.5 L442,586.0 L424,573.0 Z" fill="#fff" stroke="#111" stroke-width="1.0" />
<path d="M425,568 L503,527.5 L522,538.5 L442,582 Z" fill="#fff" stroke="#111" stroke-width="1.0" />
<rect x="439.5" y="562.5" width="13" height="5" rx="2.5" fill="#fff" stroke="#111" stroke-width="1.2" transform="rotate(-25 446.0 565.0)"/>
<rect x="438.0" y="561.0" width="16" height="8" rx="4.0" fill="none" stroke="#111" stroke-width="0.6" transform="rotate(-25 446.0 565.0)"/>
<rect x="496.0" y="530.7" width="13" height="5" rx="2.5" fill="#fff" stroke="#111" stroke-width="1.2" transform="rotate(-25 502.5 533.2)"/>
<rect x="494.5" y="529.2" width="16" height="8" rx="4.0" fill="none" stroke="#111" stroke-width="0.6" transform="rotate(-25 502.5 533.2)"/>
<path d="M454.3,549.3 L465.6,540.8 L486.8,540.8 L488.2,549.3 L476.9,557.8 L459.9,559.2 Z" fill="#fff" stroke="#111" stroke-width="1.0" />
<ellipse cx="461.4" cy="556.4" rx="2.2" ry="1.5" fill="#fff" stroke="#111" stroke-width="0.8"/>
<ellipse cx="484" cy="542.3" rx="2.2" ry="1.5" fill="#fff" stroke="#111" stroke-width="0.8"/>
<path d="M376.6,562.1 L379.3,576.1 A8.6 3.2 0 0 0 396.5,576.1 L399.2,562.1 Z" fill="#c8c8c8" stroke="#111" stroke-width="1.1"/>
<ellipse cx="387.9" cy="562.1" rx="11.3" ry="4.2" fill="#d8d8d8" stroke="#111" stroke-width="1.1"/>
<ellipse cx="387.9" cy="562.1" rx="1.6" ry="1" fill="#fff" stroke="#111" stroke-width="0.6"/>
<path d="M491.0,566.3 L493.7,580.3 A8.6 3.2 0 0 0 510.9,580.3 L513.6,566.3 Z" fill="#c8c8c8" stroke="#111" stroke-width="1.1"/>
<ellipse cx="502.3" cy="566.3" rx="11.3" ry="4.2" fill="#d8d8d8" stroke="#111" stroke-width="1.1"/>
<ellipse cx="502.3" cy="566.3" rx="1.6" ry="1" fill="#fff" stroke="#111" stroke-width="0.6"/>
<rect x="385.5" y="583.5" width="4.8" height="17.0" fill="#444" stroke="#111" stroke-width="0.8"/>
<path d="M385.5 585.0 L390.3 584.0" fill="none" stroke="#ccc" stroke-width="0.5" />
<path d="M385.5 587.0 L390.3 586.0" fill="none" stroke="#ccc" stroke-width="0.5" />
<path d="M385.5 589.0 L390.3 588.0" fill="none" stroke="#ccc" stroke-width="0.5" />
<path d="M385.5 591.0 L390.3 590.0" fill="none" stroke="#ccc" stroke-width="0.5" />
<path d="M385.5 593.0 L390.3 592.0" fill="none" stroke="#ccc" stroke-width="0.5" />
<path d="M385.5 595.0 L390.3 594.0" fill="none" stroke="#ccc" stroke-width="0.5" />
<path d="M385.5 597.0 L390.3 596.0" fill="none" stroke="#ccc" stroke-width="0.5" />
<path d="M385.5 599.0 L390.3 598.0" fill="none" stroke="#ccc" stroke-width="0.5" />
<path d="M382.9,600.5 L382.9,605.0 A5 2 0 0 0 392.9,605.0 L392.9,600.5 Z" fill="#fff" stroke="#111" stroke-width="0.9"/>
<ellipse cx="387.9" cy="600.5" rx="5" ry="2" fill="#fff" stroke="#111" stroke-width="0.9"/>
<path d="M386.4 602.0 L386.4 606.5" fill="none" stroke="#222" stroke-width="0.72" />
<path d="M389.4 602.0 L389.4 606.5" fill="none" stroke="#222" stroke-width="0.72" />
<rect x="499.9" y="586.5" width="4.8" height="17.0" fill="#444" stroke="#111" stroke-width="0.8"/>
<path d="M499.9 588.0 L504.7 587.0" fill="none" stroke="#ccc" stroke-width="0.5" />
<path d="M499.9 590.0 L504.7 589.0" fill="none" stroke="#ccc" stroke-width="0.5" />
<path d="M499.9 592.0 L504.7 591.0" fill="none" stroke="#ccc" stroke-width="0.5" />
<path d="M499.9 594.0 L504.7 593.0" fill="none" stroke="#ccc" stroke-width="0.5" />
<path d="M499.9 596.0 L504.7 595.0" fill="none" stroke="#ccc" stroke-width="0.5" />
<path d="M499.9 598.0 L504.7 597.0" fill="none" stroke="#ccc" stroke-width="0.5" />
<path d="M499.9 600.0 L504.7 599.0" fill="none" stroke="#ccc" stroke-width="0.5" />
<path d="M499.9 602.0 L504.7 601.0" fill="none" stroke="#ccc" stroke-width="0.5" />
<path d="M497.3,603.5 L497.3,608.0 A5 2 0 0 0 507.3,608.0 L507.3,603.5 Z" fill="#fff" stroke="#111" stroke-width="0.9"/>
<ellipse cx="502.3" cy="603.5" rx="5" ry="2" fill="#fff" stroke="#111" stroke-width="0.9"/>
<path d="M500.8 605.0 L500.8 609.5" fill="none" stroke="#222" stroke-width="0.72" />
<path d="M503.8 605.0 L503.8 609.5" fill="none" stroke="#222" stroke-width="0.72" />
<path d="M382.3,490.5 L382.3,492.9 A5.2 3.2 0 0 0 392.7,492.9 L392.7,490.5 Z" fill="#fff" stroke="#111" stroke-width="1.1"/>
<ellipse cx="387.5" cy="490.5" rx="5.2" ry="3.2" fill="#fff" stroke="#111" stroke-width="1.1"/>
<ellipse cx="387.5" cy="490.5" rx="2.9" ry="1.8" fill="#333" stroke="#111" stroke-width="0.7"/>
<path d="M384.9 495.6 L384.9 493.2" fill="none" stroke="#111" stroke-width="0.6" />
<path d="M390.1 495.6 L390.1 493.2" fill="none" stroke="#111" stroke-width="0.6" />
<ellipse cx="387.5" cy="503.5" rx="5.0" ry="2.9" fill="#fff" stroke="#111" stroke-width="1.2"/>
<ellipse cx="387.5" cy="502.5" rx="5.0" ry="2.9" fill="#fff" stroke="#111" stroke-width="1.1"/>
<ellipse cx="387.5" cy="502.8" rx="2.8" ry="1.6" fill="#fff" stroke="#111" stroke-width="1.3"/>
<path d="M387.5 503.9 L388.0 506.4" fill="none" stroke="#111" stroke-width="0.9" />
<ellipse cx="387.5" cy="512.2" rx="5.6" ry="3.2" fill="#fff" stroke="#111" stroke-width="1.2"/>
<ellipse cx="387.5" cy="511.3" rx="5.6" ry="3.2" fill="#fff" stroke="#111" stroke-width="1.1"/>
<ellipse cx="387.5" cy="511.5" rx="2.8" ry="1.4" fill="#fff" stroke="#111" stroke-width="1.1"/>
<ellipse cx="406.3" cy="583.7" rx="5.6" ry="3.2" fill="#fff" stroke="#111" stroke-width="1.2"/>
<ellipse cx="406.3" cy="582.8" rx="5.6" ry="3.2" fill="#fff" stroke="#111" stroke-width="1.1"/>
<ellipse cx="406.3" cy="583.0" rx="2.8" ry="1.4" fill="#fff" stroke="#111" stroke-width="1.1"/>
<ellipse cx="406.3" cy="594.3" rx="5.0" ry="2.9" fill="#fff" stroke="#111" stroke-width="1.2"/>
<ellipse cx="406.3" cy="593.3" rx="5.0" ry="2.9" fill="#fff" stroke="#111" stroke-width="1.1"/>
<ellipse cx="406.3" cy="593.6" rx="2.8" ry="1.6" fill="#fff" stroke="#111" stroke-width="1.3"/>
<path d="M406.3 594.8 L406.8 597.2" fill="none" stroke="#111" stroke-width="0.9" />
<path d="M401.1,601.5 L401.1,603.9 A5.2 3.2 0 0 0 411.5,603.9 L411.5,601.5 Z" fill="#fff" stroke="#111" stroke-width="1.1"/>
<ellipse cx="406.3" cy="601.5" rx="5.2" ry="3.2" fill="#fff" stroke="#111" stroke-width="1.1"/>
<ellipse cx="406.3" cy="601.5" rx="2.9" ry="1.8" fill="#333" stroke="#111" stroke-width="0.7"/>
<path d="M403.7 606.6 L403.7 604.2" fill="none" stroke="#111" stroke-width="0.6" />
<path d="M408.9 606.6 L408.9 604.2" fill="none" stroke="#111" stroke-width="0.6" />
<ellipse cx="485.4" cy="586.3" rx="5.6" ry="3.2" fill="#fff" stroke="#111" stroke-width="1.2"/>
<ellipse cx="485.4" cy="585.4" rx="5.6" ry="3.2" fill="#fff" stroke="#111" stroke-width="1.1"/>
<ellipse cx="485.4" cy="585.6" rx="2.8" ry="1.4" fill="#fff" stroke="#111" stroke-width="1.1"/>
<ellipse cx="485.4" cy="597.3" rx="5.0" ry="2.9" fill="#fff" stroke="#111" stroke-width="1.2"/>
<ellipse cx="485.4" cy="596.3" rx="5.0" ry="2.9" fill="#fff" stroke="#111" stroke-width="1.1"/>
<ellipse cx="485.4" cy="596.6" rx="2.8" ry="1.6" fill="#fff" stroke="#111" stroke-width="1.3"/>
<path d="M485.4 597.8 L485.9 600.2" fill="none" stroke="#111" stroke-width="0.9" />
<path d="M480.2,604.5 L480.2,606.9 A5.2 3.2 0 0 0 490.6,606.9 L490.6,604.5 Z" fill="#fff" stroke="#111" stroke-width="1.1"/>
<ellipse cx="485.4" cy="604.5" rx="5.2" ry="3.2" fill="#fff" stroke="#111" stroke-width="1.1"/>
<ellipse cx="485.4" cy="604.5" rx="2.9" ry="1.8" fill="#333" stroke="#111" stroke-width="0.7"/>
<path d="M482.8 609.6 L482.8 607.2" fill="none" stroke="#111" stroke-width="0.6" />
<path d="M488.0 609.6 L488.0 607.2" fill="none" stroke="#111" stroke-width="0.6" />
<text x="339.6" y="483.3" font-size="10.6" text-anchor="middle" textLength="5.3" lengthAdjust="spacingAndGlyphs"  style="stroke-width:0.32px">1</text>
<path d="M345.6 480.2 L382.4 491.0" fill="none" stroke="#222" stroke-width="0.96" />
<text x="339.6" y="504.8" font-size="10.6" text-anchor="middle" textLength="7.5" lengthAdjust="spacingAndGlyphs"  style="stroke-width:0.32px">2</text>
<path d="M345.6 501.7 L382.4 503.0" fill="none" stroke="#222" stroke-width="0.96" />
<text x="339.6" y="528.8" font-size="10.6" text-anchor="middle" textLength="7.5" lengthAdjust="spacingAndGlyphs"  style="stroke-width:0.32px">3</text>
<path d="M345.6 523.8 L382.4 513.0" fill="none" stroke="#222" stroke-width="0.96" />
<text x="339.6" y="552.2" font-size="10.6" text-anchor="middle" textLength="12.8" lengthAdjust="spacingAndGlyphs"  style="stroke-width:0.32px">16</text>
<path d="M346.8 547.7 L367.1 542.9" fill="none" stroke="#222" stroke-width="0.96" />
<text x="341.3" y="575.7" font-size="10.6" text-anchor="middle" textLength="7.5" lengthAdjust="spacingAndGlyphs"  style="stroke-width:0.32px">7</text>
<path d="M346.5 571.5 L376.6 570.5" fill="none" stroke="#222" stroke-width="0.96" />
<text x="341.3" y="598.9" font-size="10.6" text-anchor="middle" textLength="12.8" lengthAdjust="spacingAndGlyphs"  style="stroke-width:0.32px">41</text>
<path d="M348.4 595.1 L383.5 595.1" fill="none" stroke="#222" stroke-width="0.96" />
<text x="427.5" y="592.7" font-size="10.6" text-anchor="middle" textLength="7.5" lengthAdjust="spacingAndGlyphs"  style="stroke-width:0.32px">3</text>
<path d="M423.0 588.5 L411.8 584.0" fill="none" stroke="#222" stroke-width="0.96" />
<text x="427.5" y="602.6" font-size="10.6" text-anchor="middle" textLength="7.5" lengthAdjust="spacingAndGlyphs"  style="stroke-width:0.32px">2</text>
<path d="M423.0 598.3 L411.3 594.5" fill="none" stroke="#222" stroke-width="0.96" />
<text x="427.5" y="614.7" font-size="10.6" text-anchor="middle" textLength="5.3" lengthAdjust="spacingAndGlyphs"  style="stroke-width:0.32px">1</text>
<path d="M423.0 610.0 L411.5 604.5" fill="none" stroke="#222" stroke-width="0.96" />
<text x="462.8" y="588.4" font-size="10.6" text-anchor="middle" textLength="7.5" lengthAdjust="spacingAndGlyphs"  style="stroke-width:0.32px">3</text>
<path d="M467.0 585.5 L479.8 586.5" fill="none" stroke="#222" stroke-width="0.96" />
<text x="462.8" y="601.1" font-size="10.6" text-anchor="middle" textLength="7.5" lengthAdjust="spacingAndGlyphs"  style="stroke-width:0.32px">2</text>
<path d="M467.0 597.5 L480.4 597.0" fill="none" stroke="#222" stroke-width="0.96" />
<text x="462.8" y="615.3" font-size="10.6" text-anchor="middle" textLength="5.3" lengthAdjust="spacingAndGlyphs"  style="stroke-width:0.32px">1</text>
<path d="M467.0 610.5 L480.2 606.0" fill="none" stroke="#222" stroke-width="0.96" />
<text x="563.0" y="574.3" font-size="10.6" text-anchor="middle" textLength="12.8" lengthAdjust="spacingAndGlyphs"  style="stroke-width:0.32px">17</text>
<path d="M556.0 570.5 L513.6 571.9" fill="none" stroke="#222" stroke-width="0.96" />
<text x="563.0" y="590.4" font-size="10.6" text-anchor="middle" textLength="12.8" lengthAdjust="spacingAndGlyphs"  style="stroke-width:0.32px">41</text>
<path d="M556.0 587.5 L508.0 596.0" fill="none" stroke="#222" stroke-width="0.96" />
<text x="563.5" y="552.3" font-size="10.6" text-anchor="middle" textLength="12.8" lengthAdjust="spacingAndGlyphs"  style="stroke-width:0.32px">16</text>
<path d="M556.0 547.0 L522.0 538.5" fill="none" stroke="#222" stroke-width="0.96" />
<path d="M538.4 404.9 L538.4 414.0" fill="none" stroke="#222" stroke-width="0.96" />
<path d="M538.4 484.0 L538.4 490.0" fill="none" stroke="#222" stroke-width="0.96" />
<path d="M465.6,425.3 L465.6,429.3 A6.8 2.9 0 0 0 479.2,429.3 L479.2,425.3" fill="#fff" stroke="#111" stroke-width="1.0"/>
<ellipse cx="472.4" cy="425.3" rx="6.8" ry="2.7" fill="#fff" stroke="#111" stroke-width="1.0"/>
<path d="M460.3,402.4 L460.8,418.4 A11.6 5.0 0 0 0 484.0,418.4 L484.5,402.4 Z" fill="#fff" stroke="#111" stroke-width="1.1"/>
<ellipse cx="472.4" cy="402.4" rx="12.1" ry="5.1" fill="#fff" stroke="#111" stroke-width="1.1"/>
<path d="M460.5,402.9 A12.1 5.1 0 0 0 484.3,402.9" fill="none" stroke="#111" stroke-width="1.6"/>
<ellipse cx="472.4" cy="402.1" rx="7.7" ry="3.3" fill="#fff" stroke="#222" stroke-width="0.9"/>
<ellipse cx="472.4" cy="401.8" rx="2.8" ry="1.7" fill="#333" stroke="#111" stroke-width="0.8"/>
<path d="M471.2,400.6 L471.2,403.0 M473.6,400.6 L473.6,403.0" stroke="#ddd" stroke-width="0.6"/>
<path d="M460.6,405.9 A12.1 5.1 0 0 0 484.2,405.9" fill="none" stroke="#555" stroke-width="0.6"/>
<ellipse cx="472.4" cy="439.3" rx="12.1" ry="5.3" fill="#fff" stroke="#111" stroke-width="1.6"/>
<ellipse cx="472.4" cy="437.1" rx="12.1" ry="5.3" fill="#fff" stroke="#111" stroke-width="1.1"/>
<ellipse cx="472.4" cy="437.4" rx="7.5" ry="3.3" fill="#fff" stroke="#111" stroke-width="1.2"/>
<ellipse cx="472.4" cy="437.2" rx="4.8" ry="1.7" fill="#eee" stroke="#444" stroke-width="0.7"/>
<ellipse cx="472.4" cy="390.2" rx="12.1" ry="5.2" fill="#fff" stroke="#111" stroke-width="1.4"/>
<ellipse cx="472.4" cy="390.0" rx="10.7" ry="4.0" fill="#fff" stroke="#222" stroke-width="0.8"/>
<ellipse cx="472.4" cy="450.8" rx="12.1" ry="5.4" fill="#fff" stroke="#111" stroke-width="1.4"/>
<ellipse cx="472.4" cy="450.6" rx="10.7" ry="4.2" fill="#fff" stroke="#222" stroke-width="0.8"/>
<text x="499.0" y="389.9" font-size="10" text-anchor="middle" textLength="20.4" lengthAdjust="spacingAndGlyphs">FLAT</text>
<text x="515.3" y="401.7" font-size="10.6" text-anchor="middle" textLength="7.5" lengthAdjust="spacingAndGlyphs"  style="stroke-width:0.32px">4</text>
<path d="M482.8 392.1 L510.8 399.2" fill="none" stroke="#222" stroke-width="0.96" />
<text x="515.3" y="420.2" font-size="10.6" text-anchor="middle" textLength="7.5" lengthAdjust="spacingAndGlyphs"  style="stroke-width:0.32px">5</text>
<path d="M483.5 410.0 L510.8 417.7" fill="none" stroke="#222" stroke-width="0.96" />
<text x="515.3" y="434.1" font-size="10.6" text-anchor="middle" textLength="7.5" lengthAdjust="spacingAndGlyphs"  style="stroke-width:0.32px">6</text>
<path d="M478.5 426.5 L510.8 431.6" fill="none" stroke="#222" stroke-width="0.96" />
<text x="515.3" y="448.0" font-size="10.6" text-anchor="middle" textLength="7.5" lengthAdjust="spacingAndGlyphs"  style="stroke-width:0.32px">7</text>
<path d="M483.5 440.0 L510.8 445.5" fill="none" stroke="#222" stroke-width="0.96" />
<text x="515.3" y="464.3" font-size="10.6" text-anchor="middle" textLength="7.5" lengthAdjust="spacingAndGlyphs"  style="stroke-width:0.32px">4</text>
<path d="M483.5 454.0 L510.8 461.8" fill="none" stroke="#222" stroke-width="0.96" />
<circle cx="538.4" cy="396.3" r="8.6" fill="#fff" stroke="#111" stroke-width="0.9"/>
<text x="538.4" y="400.4" font-size="10.6" text-anchor="middle"   style="stroke-width:0.32px">B</text>
<circle cx="538.4" cy="455.2" r="6.9" fill="#fff" stroke="#111" stroke-width="1.0"/>
<path d="M526.2,431.0 L526.7,447.2 A11.7 5.0 0 0 0 550.1,447.2 L550.6,431.0 Z" fill="#fff" stroke="#111" stroke-width="1.1"/>
<ellipse cx="538.4" cy="431.0" rx="12.2" ry="5.2" fill="#fff" stroke="#111" stroke-width="1.1"/>
<path d="M526.4,431.5 A12.2 5.2 0 0 0 550.4,431.5" fill="none" stroke="#111" stroke-width="1.6"/>
<ellipse cx="538.4" cy="430.7" rx="7.8" ry="3.3" fill="#fff" stroke="#222" stroke-width="0.9"/>
<ellipse cx="538.4" cy="430.4" rx="2.8" ry="1.7" fill="#333" stroke="#111" stroke-width="0.8"/>
<path d="M537.2,429.2 L537.2,431.6 M539.6,429.2 L539.6,431.6" stroke="#ddd" stroke-width="0.6"/>
<path d="M526.5,434.6 A12.2 5.2 0 0 0 550.3,434.6" fill="none" stroke="#555" stroke-width="0.6"/>
<ellipse cx="538.4" cy="468.3" rx="12.2" ry="5.4" fill="#fff" stroke="#111" stroke-width="1.6"/>
<ellipse cx="538.4" cy="466.1" rx="12.2" ry="5.4" fill="#fff" stroke="#111" stroke-width="1.1"/>
<ellipse cx="538.4" cy="466.4" rx="7.6" ry="3.3" fill="#fff" stroke="#111" stroke-width="1.2"/>
<ellipse cx="538.4" cy="466.2" rx="4.9" ry="1.7" fill="#eee" stroke="#444" stroke-width="0.7"/>
<ellipse cx="538.4" cy="418.7" rx="12.2" ry="5.3" fill="#fff" stroke="#111" stroke-width="1.4"/>
<ellipse cx="538.4" cy="418.5" rx="10.8" ry="4.1" fill="#fff" stroke="#222" stroke-width="0.8"/>
<ellipse cx="538.4" cy="479.9" rx="12.2" ry="5.5" fill="#fff" stroke="#111" stroke-width="1.4"/>
<ellipse cx="538.4" cy="479.7" rx="10.8" ry="4.3" fill="#fff" stroke="#222" stroke-width="0.8"/>
<text x="564.0" y="416.6" font-size="10" text-anchor="middle" textLength="20.4" lengthAdjust="spacingAndGlyphs">BALL</text>
<text x="579.0" y="429.5" font-size="10.6" text-anchor="middle" textLength="7.5" lengthAdjust="spacingAndGlyphs"  style="stroke-width:0.32px">4</text>
<path d="M548.5 420.5 L574.5 427.0" fill="none" stroke="#222" stroke-width="0.96" />
<text x="580.2" y="449.2" font-size="10.6" text-anchor="middle" textLength="7.5" lengthAdjust="spacingAndGlyphs"  style="stroke-width:0.32px">5</text>
<path d="M549.5 439.0 L575.7 446.7" fill="none" stroke="#222" stroke-width="0.96" />
<text x="580.2" y="464.3" font-size="10.6" text-anchor="middle" textLength="7.5" lengthAdjust="spacingAndGlyphs"  style="stroke-width:0.32px">6</text>
<path d="M545.0 456.0 L575.7 461.8" fill="none" stroke="#222" stroke-width="0.96" />
<text x="580.2" y="477.0" font-size="10.6" text-anchor="middle" textLength="7.5" lengthAdjust="spacingAndGlyphs"  style="stroke-width:0.32px">7</text>
<path d="M549.5 469.0 L575.7 474.5" fill="none" stroke="#222" stroke-width="0.96" />
<text x="581.3" y="492.1" font-size="10.6" text-anchor="middle" textLength="7.5" lengthAdjust="spacingAndGlyphs"  style="stroke-width:0.32px">4</text>
<path d="M549.5 483.0 L576.8 489.6" fill="none" stroke="#222" stroke-width="0.96" />
<path d="M144.2 270.6 L229.5 293.0 L229.5 325.1 L250.5 337.1 L250.5 425.3 L299.2 436.1 L299.2 587.8 L199.9 587.8 L199.9 367.2 L144.2 361.5 L144.2 270.6" fill="none" stroke="#222" stroke-width="1.08" />
<text x="261.3" y="610.4" font-size="10.6" text-anchor="middle" textLength="15.0" lengthAdjust="spacingAndGlyphs"  style="stroke-width:0.32px">33</text>
<path d="M245.0 588.0 L257.6 600.4" fill="none" stroke="#222" stroke-width="0.96" />
<text x="169.0" y="290.4" font-size="10" text-anchor="middle" textLength="26" lengthAdjust="spacingAndGlyphs">33-9</text>
<path d="M184.5 288.0 L214.5 300.0" fill="none" stroke="#222" stroke-width="0.96" />
<text x="169.0" y="307.2" font-size="10" text-anchor="middle" textLength="26" lengthAdjust="spacingAndGlyphs">33-8</text>
<path d="M184.5 304.8 L214.5 318.5" fill="none" stroke="#222" stroke-width="0.96" />
<text x="169.0" y="326.9" font-size="10" text-anchor="middle" textLength="26" lengthAdjust="spacingAndGlyphs">33-7</text>
<path d="M184.5 324.3 L213.0 332.0" fill="none" stroke="#222" stroke-width="0.96" />
<text x="169.0" y="347.3" font-size="10" text-anchor="middle" textLength="26" lengthAdjust="spacingAndGlyphs">33-6</text>
<path d="M184.5 345.0 L213.0 351.5" fill="none" stroke="#222" stroke-width="0.96" />
<text x="282.1" y="448.7" font-size="10" text-anchor="middle" textLength="26" lengthAdjust="spacingAndGlyphs">33-4</text>
<path d="M266.8 445.1 L241.4 428.9" fill="none" stroke="#222" stroke-width="0.96" />
<text x="282.1" y="468.6" font-size="10" text-anchor="middle" textLength="26" lengthAdjust="spacingAndGlyphs">33-5</text>
<path d="M266.8 465.7 L237.8 463.2" fill="none" stroke="#222" stroke-width="0.96" />
<text x="282.1" y="493.2" font-size="10" text-anchor="middle" textLength="26" lengthAdjust="spacingAndGlyphs">33-1</text>
<path d="M266.8 489.6 L234.2 488.5" fill="none" stroke="#222" stroke-width="0.96" />
<text x="282.1" y="517.4" font-size="10" text-anchor="middle" textLength="26" lengthAdjust="spacingAndGlyphs">33-3</text>
<path d="M266.8 513.8 L246.8 513.8" fill="none" stroke="#222" stroke-width="0.96" />
<text x="282.1" y="540.1" font-size="10" text-anchor="middle" textLength="26" lengthAdjust="spacingAndGlyphs">33-2</text>
<path d="M266.8 536.5 L248.6 536.5" fill="none" stroke="#222" stroke-width="0.96" />
<text x="282.1" y="561.4" font-size="10" text-anchor="middle" textLength="26" lengthAdjust="spacingAndGlyphs">33-8</text>
<path d="M266.8 557.8 L241.4 558.9" fill="none" stroke="#222" stroke-width="0.96" />
<text x="282.1" y="576.9" font-size="10" text-anchor="middle" textLength="26" lengthAdjust="spacingAndGlyphs">33-9</text>
<path d="M266.8 573.3 L242.1 573.3" fill="none" stroke="#222" stroke-width="0.96" />
<path d="M227.4 354.5 L227.4 390.0" fill="none" stroke="#222" stroke-width="0.96" />
<path d="M227.7 428.0 L227.7 447.0" fill="none" stroke="#222" stroke-width="0.96" />
<path d="M237.1 539.0 L237.1 556.0" fill="none" stroke="#222" stroke-width="0.96" />
<path d="M218.3 314.0 L218.3 333.0" fill="none" stroke="#222" stroke-width="0.96" />
<rect x="215.3" y="298" width="6" height="5" rx="1" fill="#fff" stroke="#111" stroke-width="0.9"/>
<rect x="216.6" y="303" width="3.4" height="10" fill="#555" stroke="#111" stroke-width="0.7"/>
<ellipse cx="218.3" cy="320.4" rx="4.0" ry="2.3" fill="#fff" stroke="#111" stroke-width="1.2"/>
<ellipse cx="218.3" cy="319.5" rx="4.0" ry="2.3" fill="#fff" stroke="#111" stroke-width="1.1"/>
<ellipse cx="218.3" cy="319.7" rx="2.0" ry="1.0" fill="#fff" stroke="#111" stroke-width="1.1"/>
<path d="M212.7,332.1 L221.1,328.8 L243.5,340.5 L244.9,344.7 L236.5,347.5 L215.5,336.3 Z" fill="#fff" stroke="#111" stroke-width="1.0" />
<path d="M215.5 336.3 L215.8 338.0 L236.5 349.3 L244.9 346.4" fill="none" stroke="#222" stroke-width="0.96" />
<ellipse cx="219.7" cy="333.5" rx="1.6" ry="1.1" fill="#222"/><ellipse cx="235.1" cy="343.3" rx="1.6" ry="1.1" fill="#222"/>
<path d="M212.7,353.1 L219.7,348.9 L247.7,360.1 L246.3,365 L238,369.5 L213,357.5 Z" fill="#fff" stroke="#111" stroke-width="1.0" />
<path d="M213.0 357.5 L213.0 360.0 L238.0 372.5 L246.3 368.0 L246.3 365.0" fill="none" stroke="#222" stroke-width="1.08" />
<path d="M238.0 369.5 L238.0 372.5" fill="none" stroke="#222" stroke-width="0.96" />
<ellipse cx="219.7" cy="353.5" rx="1.6" ry="1.1" fill="#fff" stroke="#111" stroke-width="0.7"/><ellipse cx="235.5" cy="362.5" rx="1.6" ry="1.1" fill="#fff" stroke="#111" stroke-width="0.7"/>
<path d="M224,365.5 C225,368 228,370 231,371 L229,373 C226,372 224.5,370 224,365.5 Z" fill="#333" stroke="#111" stroke-width="0.4" />
<path d="M251.9,364.3 L277,378.3 L278.4,410.4 L253.3,396.4 Z" fill="#fff" stroke="#111" stroke-width="1.0" />
<path d="M252.5 366.0 L276.5 379.5" fill="none" stroke="#222" stroke-width="0.6" />
<path d="M258.8 374.7 L258.8 384.7" fill="none" stroke="#111" stroke-width="1.6" />
<path d="M255.8 379.7 L261.8 381.2" fill="none" stroke="#111" stroke-width="1.6" />
<path d="M255.8,382.7 q3,3 6,0" fill="none" stroke="#111" stroke-width="1.2"/>
<path d="M267.2 390.0 L267.2 400.0" fill="none" stroke="#111" stroke-width="1.6" />
<path d="M264.2 395.0 L270.2 396.5" fill="none" stroke="#111" stroke-width="1.6" />
<path d="M264.2,398 q3,3 6,0" fill="none" stroke="#111" stroke-width="1.2"/>
<path d="M277.7 388.0 L307.0 395.5" fill="none" stroke="#222" stroke-width="0.96" />
<text x="316.5" y="399.8" font-size="10.6" text-anchor="middle" textLength="15.0" lengthAdjust="spacingAndGlyphs" >44</text>
<path d="M211.8,386.8 L224.6,380.6 L247.6,394 L236.4,399.6 Z" fill="#fff" stroke="#111" stroke-width="1.1" />
<path d="M236.4,399.6 L247.6,394 L247.6,424.8 L236.4,430.4 Z" fill="#fff" stroke="#111" stroke-width="1.1" />
<path d="M211.8,386.8 L236.4,399.6 L236.4,430.4 L218.5,422.6 L211.8,419 Z" fill="#fff" stroke="#111" stroke-width="1.1" />
<path d="M212.3 388.0 L212.3 405.0" fill="none" stroke="#222" stroke-width="0.96" />
<path d="M218.5,403.5 C224,406 228,410 228.5,417 L228.5,425" fill="none" stroke="#222" stroke-width="0.6"/>
<ellipse cx="226.9" cy="390.7" rx="5.45" ry="3.32" transform="rotate(10 226.9 390.7)" fill="#fff" stroke="#111" stroke-width="1.0" />
<circle cx="226.9" cy="390.9" r="1.1" fill="#333" stroke="#111" stroke-width="0.3"/>
<circle cx="219.0" cy="386.9" r="0.9" fill="#222" stroke="#111" stroke-width="0.3"/>
<circle cx="236.4" cy="396.3" r="0.9" fill="#222" stroke="#111" stroke-width="0.3"/>
<circle cx="233.0" cy="421.5" r="1.1" fill="#fff" stroke="#111" stroke-width="0.7"/>
<path d="M209,411 C210.5,408.5 214,407.5 217,409 L220,420 C218,422.5 214.5,423 212,421.5 Z" fill="#fff" stroke="#111" stroke-width="1.0" />
<ellipse cx="213.5" cy="414.7" rx="5.58" ry="6.32" transform="rotate(10 213.5 414.7)" fill="#fff" stroke="#111" stroke-width="1.1" />
<ellipse cx="213.6" cy="414.9" rx="3.28" ry="3.81" transform="rotate(10 213.6 414.9)" fill="#444" stroke="#111" stroke-width="0.6" />
<circle cx="213.8" cy="415.0" r="1.1" fill="#ddd" stroke="#111" stroke-width="0"/>
<path d="M204.0 383.4 L204.5 403.6 L214.6 399.1" fill="none" stroke="#222" stroke-width="0.84" />
<path d="M195.0 387.9 L204.0 383.4" fill="none" stroke="#222" stroke-width="0.84" />
<ellipse cx="192.7" cy="388.7" rx="2.75" ry="4.03" transform="rotate(10 192.7 388.7)" fill="#fff" stroke="#111" stroke-width="1.2" />
<text x="148.1" y="379.6" font-size="10.6" text-anchor="middle" textLength="15.0" lengthAdjust="spacingAndGlyphs"  style="stroke-width:0.32px">29</text>
<path d="M155.3 377.2 L189.0 386.6" fill="none" stroke="#222" stroke-width="0.96" />
<path d="M169,401 L186.9,392.3 L188.2,395 L170.3,403.8 Z" fill="#555" stroke="#111" stroke-width="0.8"/>
<path d="M172.5 399.5 L173.3 402.1" fill="none" stroke="#ddd" stroke-width="0.5" />
<path d="M174.7 398.4 L175.5 401.0" fill="none" stroke="#ddd" stroke-width="0.5" />
<path d="M176.9 397.4 L177.7 400.0" fill="none" stroke="#ddd" stroke-width="0.5" />
<path d="M179.1 396.3 L179.9 398.9" fill="none" stroke="#ddd" stroke-width="0.5" />
<path d="M181.3 395.2 L182.1 397.8" fill="none" stroke="#ddd" stroke-width="0.5" />
<path d="M183.5 394.1 L184.3 396.8" fill="none" stroke="#ddd" stroke-width="0.5" />
<path d="M185.7 393.1 L186.5 395.7" fill="none" stroke="#ddd" stroke-width="0.5" />
<circle cx="166.3" cy="402.6" r="3.3" fill="#fff" stroke="#111" stroke-width="1.0"/>
<circle cx="166.3" cy="402.6" r="1.5" fill="#444" stroke="#111" stroke-width="0.4"/>
<text x="124.4" y="393.3" font-size="10.6" text-anchor="middle" textLength="15.0" lengthAdjust="spacingAndGlyphs"  style="stroke-width:0.32px">34</text>
<path d="M131.6 389.5 L171.9 395.9" fill="none" stroke="#222" stroke-width="0.96" />
<path d="M186.2 429.0 L208.0 418.0" fill="none" stroke="#222" stroke-width="0.96" />
<path d="M148,413.5 L150.5,410 L170,420 L178,419.5 L179.5,426 L172,427 Z" fill="#666" stroke="#111" stroke-width="0.9" />
<path d="M166,424 L178,421.5 L180,430 L170,433 Z" fill="#fff" stroke="#111" stroke-width="0.9" />
<path d="M162,434 L176.5,428.5 L180.5,436 L168,442 Z" fill="#fff" stroke="#111" stroke-width="0.9" />
<path d="M179.5,427.5 L185,425.5 L186.5,431.5 L181,433.5 Z" fill="#444" stroke="#111" stroke-width="0.7" />
<ellipse cx="164.0" cy="439.5" rx="4.73" ry="6.70" transform="rotate(20 164.0 439.5)" fill="#fff" stroke="#111" stroke-width="1.1" />
<ellipse cx="164.2" cy="439.7" rx="2.61" ry="3.93" transform="rotate(20 164.2 439.7)" fill="#555" stroke="#111" stroke-width="0.6" />
<text x="110.8" y="410.5" font-size="10.6" text-anchor="middle" textLength="15.0" lengthAdjust="spacingAndGlyphs"  style="stroke-width:0.32px">36</text>
<path d="M118.0 408.1 L148.9 413.9" fill="none" stroke="#222" stroke-width="0.96" />
<path d="M221.3,450 L221.3,467 A7.2 2.6 0 0 0 235.7,467 L235.7,450 Z" fill="#fff" stroke="#111" stroke-width="0.9"/>
<path d="M221.3,456.5 L221.3,467 A7.2 2.6 0 0 0 235.7,467 L235.7,456.5 A7.2 2.6 0 0 1 221.3,456.5 Z" fill="#333" stroke="#111" stroke-width="0.7"/>
<path d="M221.5,459.5 A7.2 2.6 0 0 0 235.5,459.5" fill="none" stroke="#bbb" stroke-width="0.6"/>
<path d="M221.5,462.3 A7.2 2.6 0 0 0 235.5,462.3" fill="none" stroke="#bbb" stroke-width="0.6"/>
<path d="M221.5,465.1 A7.2 2.6 0 0 0 235.5,465.1" fill="none" stroke="#bbb" stroke-width="0.6"/>
<ellipse cx="228.5" cy="450" rx="7.2" ry="2.6" fill="#fff" stroke="#111" stroke-width="0.9"/>
<path d="M224,477.5 L224,494 A3.9 1.6 0 0 0 231.8,494 L231.8,477.5 Z" fill="#fff" stroke="#111" stroke-width="0.9"/>
<ellipse cx="227.9" cy="477.5" rx="3.9" ry="1.7" fill="#fff" stroke="#111" stroke-width="0.9"/>
<path d="M214.3,508 L224,503 L246.8,512 L246.8,515.5 L236,521 L214.3,511.5 Z" fill="#fff" stroke="#111" stroke-width="1.0" />
<path d="M214.3 511.5 L214.3 514.0 L236.0 524.0 L246.8 518.5 L246.8 515.5" fill="none" stroke="#222" stroke-width="1.08" />
<path d="M236.0 521.0 L236.0 524.0" fill="none" stroke="#222" stroke-width="0.96" />
<ellipse cx="228.0" cy="508.0" rx="5.50" ry="3.30" transform="rotate(0 228.0 508.0)" fill="#fff" stroke="#111" stroke-width="1.0" />
<ellipse cx="228.0" cy="508.3" rx="2.80" ry="1.70" transform="rotate(0 228.0 508.3)" fill="#333" stroke="#111" stroke-width="0.6" />
<circle cx="238.5" cy="515.5" r="1.1" fill="#fff" stroke="#111" stroke-width="0.6"/>
<circle cx="218.5" cy="508.8" r="1.0" fill="#fff" stroke="#111" stroke-width="0.6"/>
<path d="M214.3,528.5 L222,524.6 L248.6,535.5 L248.6,537.8 L240,542.7 L214.3,531 Z" fill="#fff" stroke="#111" stroke-width="1.0" />
<path d="M214.3 531.0 L240.0 543.7 L248.6 539.0" fill="none" stroke="#222" stroke-width="0.84" />
<circle cx="225.0" cy="532.5" r="2.0" fill="#fff" stroke="#111" stroke-width="0.8"/>
<circle cx="237.1" cy="537.8" r="1.0" fill="#fff" stroke="#111" stroke-width="0.6"/>
<circle cx="231.0" cy="528.5" r="0.9" fill="#fff" stroke="#111" stroke-width="0.6"/>
<ellipse cx="237.1" cy="559.8" rx="3.8" ry="2.2" fill="#fff" stroke="#111" stroke-width="1.2"/>
<ellipse cx="237.1" cy="558.9" rx="3.8" ry="2.2" fill="#fff" stroke="#111" stroke-width="1.1"/>
<ellipse cx="237.1" cy="559.1" rx="1.9" ry="1.0" fill="#fff" stroke="#111" stroke-width="1.1"/>
<rect x="235.4" y="565.5" width="3.4" height="9" fill="#555" stroke="#111" stroke-width="0.7"/>
<rect x="234.1" y="574.5" width="6" height="5" rx="1" fill="#fff" stroke="#111" stroke-width="0.9"/>
<path d="M603.7,478.0 L603.7,480.6 A5.8 3.4 0 0 0 615.3,480.6 L615.3,478.0 Z" fill="#fff" stroke="#111" stroke-width="1.1"/>
<ellipse cx="609.5" cy="478.0" rx="5.8" ry="3.4" fill="#fff" stroke="#111" stroke-width="1.1"/>
<ellipse cx="609.5" cy="478.0" rx="3.2" ry="1.9" fill="#333" stroke="#111" stroke-width="0.7"/>
<path d="M606.6 483.5 L606.6 480.9" fill="none" stroke="#111" stroke-width="0.6" />
<path d="M612.4 483.5 L612.4 480.9" fill="none" stroke="#111" stroke-width="0.6" />
<ellipse cx="609.5" cy="491.3" rx="5.4" ry="3.0" fill="#fff" stroke="#111" stroke-width="1.2"/>
<ellipse cx="609.5" cy="490.3" rx="5.4" ry="3.0" fill="#fff" stroke="#111" stroke-width="1.1"/>
<ellipse cx="609.5" cy="490.6" rx="3.0" ry="1.7" fill="#fff" stroke="#111" stroke-width="1.3"/>
<path d="M609.5 491.8 L610.0 494.3" fill="none" stroke="#111" stroke-width="0.9" />
<ellipse cx="609.5" cy="500.4" rx="6.0" ry="3.4" fill="#fff" stroke="#111" stroke-width="1.2"/>
<ellipse cx="609.5" cy="499.5" rx="6.0" ry="3.4" fill="#fff" stroke="#111" stroke-width="1.1"/>
<ellipse cx="609.5" cy="499.7" rx="3.0" ry="1.5" fill="#fff" stroke="#111" stroke-width="1.1"/>
<text x="644.1" y="480.5" font-size="10.6" text-anchor="middle" textLength="5.3" lengthAdjust="spacingAndGlyphs"  style="stroke-width:0.32px">1</text>
<path d="M614.6 479.3 L640.0 477.3" fill="none" stroke="#222" stroke-width="0.96" />
<text x="644.1" y="494.3" font-size="10.6" text-anchor="middle" textLength="7.5" lengthAdjust="spacingAndGlyphs"  style="stroke-width:0.32px">2</text>
<path d="M614.6 490.5 L640.0 490.5" fill="none" stroke="#222" stroke-width="0.96" />
<text x="644.7" y="509.6" font-size="10.6" text-anchor="middle" textLength="7.5" lengthAdjust="spacingAndGlyphs"  style="stroke-width:0.32px">3</text>
<path d="M614.6 500.7 L641.0 504.7" fill="none" stroke="#222" stroke-width="0.96" />
<ellipse cx="714.6" cy="516.6" rx="4.48" ry="6.92" transform="rotate(30 714.6 516.6)" fill="#222" stroke="#111" stroke-width="0.8" />
<ellipse cx="715.4" cy="517.0" rx="4.48" ry="6.92" transform="rotate(30 715.4 517.0)" fill="#fff" stroke="#111" stroke-width="1.0" />
<ellipse cx="715.6" cy="517.1" rx="2.17" ry="3.60" transform="rotate(30 715.6 517.1)" fill="#fff" stroke="#111" stroke-width="1.0" />
<ellipse cx="722.8" cy="520.8" rx="4.07" ry="6.52" transform="rotate(30 722.8 520.8)" fill="#222" stroke="#111" stroke-width="0.8" />
<ellipse cx="723.6" cy="521.2" rx="4.07" ry="6.52" transform="rotate(30 723.6 521.2)" fill="#666" stroke="#111" stroke-width="1.0" />
<ellipse cx="723.8" cy="521.3" rx="1.96" ry="3.40" transform="rotate(30 723.8 521.3)" fill="#fff" stroke="#111" stroke-width="0.8" />
<ellipse cx="731.5" cy="526.2" rx="5.03" ry="7.05" transform="rotate(30 731.5 526.2)" fill="#333" stroke="#111" stroke-width="0.8" />
<ellipse cx="733.0" cy="527.1" rx="4.82" ry="6.85" transform="rotate(30 733.0 527.1)" fill="#fff" stroke="#111" stroke-width="1.1" />
<ellipse cx="733.2" cy="527.2" rx="2.34" ry="3.56" transform="rotate(30 733.2 527.2)" fill="#444" stroke="#111" stroke-width="0.7" />
<text x="685.8" y="546.2" font-size="10.6" text-anchor="middle" textLength="7.5" lengthAdjust="spacingAndGlyphs"  style="stroke-width:0.32px">3</text>
<path d="M689.8 539.3 L713.2 522.0" fill="none" stroke="#222" stroke-width="0.96" />
<text x="693.9" y="558.4" font-size="10.6" text-anchor="middle" textLength="7.5" lengthAdjust="spacingAndGlyphs"  style="stroke-width:0.32px">2</text>
<path d="M698.0 552.5 L721.3 525.1" fill="none" stroke="#222" stroke-width="0.96" />
<text x="711.2" y="571.6" font-size="10.6" text-anchor="middle" textLength="5.3" lengthAdjust="spacingAndGlyphs"  style="stroke-width:0.32px">1</text>
<path d="M713.2 564.7 L733.5 533.2" fill="none" stroke="#222" stroke-width="0.96" />
</svg>
</body></html>
